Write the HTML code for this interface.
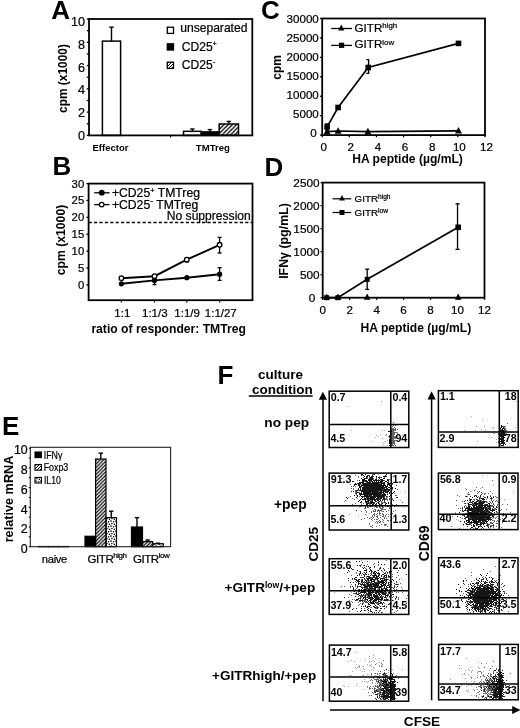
<!DOCTYPE html>
<html><head><meta charset="utf-8"><style>
html,body{margin:0;padding:0;background:#fff;}
svg{display:block;filter:blur(0.3px);}
text{font-family:"Liberation Sans", sans-serif;fill:#000;}
text:not([font-weight]){stroke:#000;stroke-width:0.22px;}
</style></head><body>
<svg width="520" height="728" viewBox="0 0 520 728">
<defs>
<filter id="soft" x="-5%" y="-5%" width="110%" height="110%"><feGaussianBlur stdDeviation="0.35"/></filter>
<pattern id="hatchA" patternUnits="userSpaceOnUse" width="4.2" height="4.2">
<path d="M-1,5.2 L5.2,-1 M-1,1 L1,-1 M3.2,5.2 L5.2,3.2" stroke="#000" stroke-width="1.3"/></pattern>
<pattern id="hatchL" patternUnits="userSpaceOnUse" width="3" height="3">
<path d="M-1,4 L4,-1 M-1,1 L1,-1 M2,4 L4,2" stroke="#000" stroke-width="1"/></pattern>
<pattern id="hatchE" patternUnits="userSpaceOnUse" width="3.5" height="3.5">
<path d="M-1,4.5 L4.5,-1 M-1,1 L1,-1 M2.5,4.5 L4.5,2.5" stroke="#000" stroke-width="1.15"/></pattern>
<pattern id="dotsE" patternUnits="userSpaceOnUse" width="5" height="5">
<circle cx="1.0" cy="1.0" r="0.85" fill="#000"/><circle cx="3.6" cy="1.8" r="0.8" fill="#000"/><circle cx="1.9" cy="3.6" r="0.8" fill="#000"/><circle cx="4.4" cy="4.3" r="0.75" fill="#000"/></pattern>
</defs>
<rect width="520" height="728" fill="#fff"/>
<text x="51.2" y="19.4" font-size="26" font-weight="bold" text-anchor="start">A</text>
<line x1="86.8" y1="135.4" x2="89" y2="135.4" stroke="#000" stroke-width="1.3"/>
<line x1="86.8" y1="123.76" x2="89" y2="123.76" stroke="#000" stroke-width="1.3"/>
<line x1="86.8" y1="112.12" x2="89" y2="112.12" stroke="#000" stroke-width="1.3"/>
<line x1="86.8" y1="100.48" x2="89" y2="100.48" stroke="#000" stroke-width="1.3"/>
<line x1="86.8" y1="88.84" x2="89" y2="88.84" stroke="#000" stroke-width="1.3"/>
<line x1="86.8" y1="77.2" x2="89" y2="77.2" stroke="#000" stroke-width="1.3"/>
<line x1="86.8" y1="65.56" x2="89" y2="65.56" stroke="#000" stroke-width="1.3"/>
<line x1="86.8" y1="53.92" x2="89" y2="53.92" stroke="#000" stroke-width="1.3"/>
<line x1="86.8" y1="42.28" x2="89" y2="42.28" stroke="#000" stroke-width="1.3"/>
<line x1="86.8" y1="30.639999999999986" x2="89" y2="30.639999999999986" stroke="#000" stroke-width="1.3"/>
<line x1="86.8" y1="19.0" x2="89" y2="19.0" stroke="#000" stroke-width="1.3"/>
<text x="84.9" y="140.1" font-size="12.6" text-anchor="end">0</text>
<text x="84.9" y="117.25999999999999" font-size="12.6" text-anchor="end">2</text>
<text x="84.9" y="94.41999999999999" font-size="12.6" text-anchor="end">4</text>
<text x="84.9" y="71.58" font-size="12.6" text-anchor="end">6</text>
<text x="84.9" y="48.74" font-size="12.6" text-anchor="end">8</text>
<text x="84.9" y="25.9" font-size="12.6" text-anchor="end">10</text>
<text x="66.6" y="78.5" font-size="11.9" font-weight="bold" text-anchor="middle" transform="rotate(-90 66.6 78.5)">cpm (x1000)</text>
<line x1="111.5" y1="27.147999999999982" x2="111.5" y2="41.116" stroke="#000" stroke-width="1.4"/>
<line x1="109.3" y1="27.147999999999982" x2="113.7" y2="27.147999999999982" stroke="#000" stroke-width="1.4"/>
<rect x="102.4" y="41.116" width="18.19999999999999" height="94.284" fill="#fff" stroke="#000" stroke-width="1.5"/>
<line x1="192.4" y1="128.998" x2="192.4" y2="131.326" stroke="#000" stroke-width="1.4"/>
<line x1="190.20000000000002" y1="128.998" x2="194.6" y2="128.998" stroke="#000" stroke-width="1.4"/>
<rect x="183.5" y="131.326" width="17.80000000000001" height="4.074000000000012" fill="#fff" stroke="#000" stroke-width="1.5"/>
<line x1="209.95" y1="129.58" x2="209.95" y2="131.90800000000002" stroke="#000" stroke-width="1.4"/>
<line x1="207.75" y1="129.58" x2="212.14999999999998" y2="129.58" stroke="#000" stroke-width="1.4"/>
<rect x="201.3" y="131.90800000000002" width="17.299999999999983" height="3.4919999999999902" fill="#000" stroke="#000" stroke-width="1.5"/>
<line x1="228.85" y1="121.432" x2="228.85" y2="123.9928" stroke="#000" stroke-width="1.4"/>
<line x1="226.65" y1="121.432" x2="231.04999999999998" y2="121.432" stroke="#000" stroke-width="1.4"/>
<rect x="219.2" y="123.9928" width="19.30000000000001" height="11.407200000000003" fill="url(#hatchA)" stroke="#000" stroke-width="1.5"/>
<rect x="89" y="19.0" width="163.3" height="116.4" fill="none" stroke="#000" stroke-width="1.8"/>
<line x1="170.6" y1="135.4" x2="170.6" y2="137.4" stroke="#000" stroke-width="1.2"/>
<text x="92.5" y="150.8" font-size="9.5" font-weight="bold" text-anchor="start">Effector</text>
<text x="195.8" y="150.8" font-size="9.6" font-weight="bold" text-anchor="start">TMTreg</text>
<rect x="167.3" y="27.2" width="6.2" height="6.2" fill="#fff" stroke="#000" stroke-width="1.3"/>
<rect x="167.3" y="43.8" width="6.2" height="6.2" fill="#000" stroke="#000" stroke-width="1.3"/>
<rect x="167.3" y="62.2" width="6.2" height="6.2" fill="url(#hatchL)" stroke="#000" stroke-width="1.3"/>
<text x="180.2" y="31.9" font-size="12.1" text-anchor="start">unseparated</text>
<text x="181.8" y="50.5" font-size="12.1" text-anchor="start">CD25<tspan dy="-5" font-size="6.5">+</tspan></text>
<text x="181.8" y="68.8" font-size="12.1" text-anchor="start">CD25<tspan dy="-5" font-size="7">-</tspan></text>
<text x="52.4" y="174.6" font-size="26" font-weight="bold" text-anchor="start">B</text>
<line x1="86.39999999999999" y1="284.9" x2="88.6" y2="284.9" stroke="#000" stroke-width="1.3"/>
<text x="84.2" y="288.9" font-size="11.3" text-anchor="end">0</text>
<line x1="86.39999999999999" y1="268.01666666666665" x2="88.6" y2="268.01666666666665" stroke="#000" stroke-width="1.3"/>
<text x="84.2" y="272.01666666666665" font-size="11.3" text-anchor="end">5</text>
<line x1="86.39999999999999" y1="251.13333333333333" x2="88.6" y2="251.13333333333333" stroke="#000" stroke-width="1.3"/>
<text x="84.2" y="255.13333333333333" font-size="11.3" text-anchor="end">10</text>
<line x1="86.39999999999999" y1="234.25" x2="88.6" y2="234.25" stroke="#000" stroke-width="1.3"/>
<text x="84.2" y="238.25" font-size="11.3" text-anchor="end">15</text>
<line x1="86.39999999999999" y1="217.36666666666667" x2="88.6" y2="217.36666666666667" stroke="#000" stroke-width="1.3"/>
<text x="84.2" y="221.36666666666667" font-size="11.3" text-anchor="end">20</text>
<line x1="86.39999999999999" y1="200.48333333333332" x2="88.6" y2="200.48333333333332" stroke="#000" stroke-width="1.3"/>
<text x="84.2" y="204.48333333333332" font-size="11.3" text-anchor="end">25</text>
<line x1="86.39999999999999" y1="183.6" x2="88.6" y2="183.6" stroke="#000" stroke-width="1.3"/>
<text x="84.2" y="187.6" font-size="11.3" text-anchor="end">30</text>
<text x="64.5" y="240.0" font-size="12.2" font-weight="bold" text-anchor="middle" transform="rotate(-90 64.5 240.0)">cpm (x1000)</text>
<line x1="121.4" y1="300.2" x2="121.4" y2="302.4" stroke="#000" stroke-width="1.3"/>
<line x1="154.5" y1="300.2" x2="154.5" y2="302.4" stroke="#000" stroke-width="1.3"/>
<line x1="186.8" y1="300.2" x2="186.8" y2="302.4" stroke="#000" stroke-width="1.3"/>
<line x1="219.6" y1="300.2" x2="219.6" y2="302.4" stroke="#000" stroke-width="1.3"/>
<line x1="88.6" y1="222.5" x2="252.5" y2="222.5" stroke="#000" stroke-width="1.3" stroke-dasharray="3.2 2.2"/>
<text x="250.8" y="219.6" font-size="12.1" text-anchor="end">No suppression</text>
<polyline points="121.4,283.8 154.5,280.4 186.8,277.7 219.6,274.2" fill="none" stroke="#000" stroke-width="1.9"/>
<polyline points="121.4,278.2 154.5,276.2 186.8,259.7 219.6,244.8" fill="none" stroke="#000" stroke-width="1.9"/>
<line x1="219.6" y1="237.4" x2="219.6" y2="253.0" stroke="#000" stroke-width="1.3"/>
<line x1="217.6" y1="237.4" x2="221.6" y2="237.4" stroke="#000" stroke-width="1.3"/>
<line x1="217.6" y1="253.0" x2="221.6" y2="253.0" stroke="#000" stroke-width="1.3"/>
<line x1="186.8" y1="257.6" x2="186.8" y2="261.8" stroke="#000" stroke-width="1.3"/>
<line x1="184.8" y1="257.6" x2="188.8" y2="257.6" stroke="#000" stroke-width="1.3"/>
<line x1="184.8" y1="261.8" x2="188.8" y2="261.8" stroke="#000" stroke-width="1.3"/>
<line x1="219.6" y1="267.7" x2="219.6" y2="280.4" stroke="#000" stroke-width="1.3"/>
<line x1="217.6" y1="267.7" x2="221.6" y2="267.7" stroke="#000" stroke-width="1.3"/>
<line x1="217.6" y1="280.4" x2="221.6" y2="280.4" stroke="#000" stroke-width="1.3"/>
<line x1="154.5" y1="277.7" x2="154.5" y2="284.6" stroke="#000" stroke-width="1.3"/>
<line x1="152.5" y1="277.7" x2="156.5" y2="277.7" stroke="#000" stroke-width="1.3"/>
<line x1="152.5" y1="284.6" x2="156.5" y2="284.6" stroke="#000" stroke-width="1.3"/>
<circle cx="121.4" cy="283.8" r="2.6" fill="#000"/>
<circle cx="154.5" cy="280.4" r="2.6" fill="#000"/>
<circle cx="186.8" cy="277.7" r="2.6" fill="#000"/>
<circle cx="219.6" cy="274.2" r="2.6" fill="#000"/>
<circle cx="121.4" cy="278.2" r="2.3" fill="#fff" stroke="#000" stroke-width="1.3"/>
<circle cx="154.5" cy="276.2" r="2.3" fill="#fff" stroke="#000" stroke-width="1.3"/>
<circle cx="186.8" cy="259.7" r="2.3" fill="#fff" stroke="#000" stroke-width="1.3"/>
<circle cx="219.6" cy="244.8" r="2.3" fill="#fff" stroke="#000" stroke-width="1.3"/>
<rect x="88.6" y="183.6" width="163.9" height="116.6" fill="none" stroke="#000" stroke-width="1.8"/>
<line x1="94.2" y1="192.8" x2="109.6" y2="192.8" stroke="#000" stroke-width="1.3"/>
<circle cx="101.8" cy="192.7" r="2.9" fill="#000"/>
<line x1="94.2" y1="204.6" x2="109.6" y2="204.6" stroke="#000" stroke-width="1.3"/>
<circle cx="101.7" cy="204.6" r="2.3" fill="#fff" stroke="#000" stroke-width="1.2"/>
<text x="111.9" y="197.2" font-size="12.2" text-anchor="start">+CD25<tspan dy="-4.5" font-size="7.5">+</tspan><tspan dy="4.5"> TMTreg</tspan></text>
<text x="111.9" y="208.8" font-size="12.2" text-anchor="start">+CD25<tspan dy="-4.5" font-size="8.5">-</tspan><tspan dy="4.5"> TMTreg</tspan></text>
<text x="122.3" y="317.0" font-size="11.5" text-anchor="middle">1:1</text>
<text x="154.8" y="317.0" font-size="11.5" text-anchor="middle">1:1/3</text>
<text x="187.1" y="317.0" font-size="11.5" text-anchor="middle">1:1/9</text>
<text x="220.8" y="317.0" font-size="11.5" text-anchor="middle">1:1/27</text>
<text x="91.4" y="333.2" font-size="12.15" font-weight="bold" text-anchor="start">ratio of responder: TMTreg</text>
<text x="261.0" y="19.4" font-size="26" font-weight="bold" text-anchor="start">C</text>
<line x1="320.0" y1="135.1" x2="322.2" y2="135.1" stroke="#000" stroke-width="1.3"/>
<text x="316.6" y="137.1" font-size="11.6" text-anchor="end">0</text>
<line x1="320.0" y1="115.66666666666666" x2="322.2" y2="115.66666666666666" stroke="#000" stroke-width="1.3"/>
<text x="318.8" y="118.0" font-size="11.6" text-anchor="end">5000</text>
<line x1="320.0" y1="96.23333333333332" x2="322.2" y2="96.23333333333332" stroke="#000" stroke-width="1.3"/>
<text x="318.8" y="98.89999999999999" font-size="11.6" text-anchor="end">10000</text>
<line x1="320.0" y1="76.8" x2="322.2" y2="76.8" stroke="#000" stroke-width="1.3"/>
<text x="318.8" y="79.79999999999998" font-size="11.6" text-anchor="end">15000</text>
<line x1="320.0" y1="57.36666666666666" x2="322.2" y2="57.36666666666666" stroke="#000" stroke-width="1.3"/>
<text x="318.8" y="60.69999999999999" font-size="11.6" text-anchor="end">20000</text>
<line x1="320.0" y1="37.93333333333332" x2="322.2" y2="37.93333333333332" stroke="#000" stroke-width="1.3"/>
<text x="318.8" y="41.599999999999994" font-size="11.6" text-anchor="end">25000</text>
<line x1="320.0" y1="18.5" x2="322.2" y2="18.5" stroke="#000" stroke-width="1.3"/>
<text x="318.8" y="22.499999999999986" font-size="11.6" text-anchor="end">30000</text>
<line x1="322.2" y1="135.1" x2="322.2" y2="137.29999999999998" stroke="#000" stroke-width="1.3"/>
<text x="323.7" y="150.7" font-size="11.6" text-anchor="middle">0</text>
<line x1="349.3333333333333" y1="135.1" x2="349.3333333333333" y2="137.29999999999998" stroke="#000" stroke-width="1.3"/>
<text x="350.8333333333333" y="150.7" font-size="11.6" text-anchor="middle">2</text>
<line x1="376.46666666666664" y1="135.1" x2="376.46666666666664" y2="137.29999999999998" stroke="#000" stroke-width="1.3"/>
<text x="377.96666666666664" y="150.7" font-size="11.6" text-anchor="middle">4</text>
<line x1="403.6" y1="135.1" x2="403.6" y2="137.29999999999998" stroke="#000" stroke-width="1.3"/>
<text x="405.1" y="150.7" font-size="11.6" text-anchor="middle">6</text>
<line x1="430.73333333333335" y1="135.1" x2="430.73333333333335" y2="137.29999999999998" stroke="#000" stroke-width="1.3"/>
<text x="432.23333333333335" y="150.7" font-size="11.6" text-anchor="middle">8</text>
<line x1="457.8666666666667" y1="135.1" x2="457.8666666666667" y2="137.29999999999998" stroke="#000" stroke-width="1.3"/>
<text x="459.3666666666667" y="150.7" font-size="11.6" text-anchor="middle">10</text>
<line x1="485.0" y1="135.1" x2="485.0" y2="137.29999999999998" stroke="#000" stroke-width="1.3"/>
<text x="486.5" y="150.7" font-size="11.6" text-anchor="middle">12</text>
<text x="280.6" y="67.3" font-size="12.0" font-weight="bold" text-anchor="middle" transform="rotate(-90 280.6 67.3)">cpm</text>
<text x="352.2" y="162.6" font-size="12.1" font-weight="bold" text-anchor="start">HA peptide (µg/mL)</text>
<polyline points="327.1,131.6 338.1,131.0 367.9,131.6 458.5,130.8" fill="none" stroke="#000" stroke-width="1.7"/>
<polyline points="327.1,126.9 338.1,107.5 368.2,67.5 458.5,43.4" fill="none" stroke="#000" stroke-width="1.7"/>
<path d="M366.3,59.6 H368.6 V73.4 H366.3" fill="none" stroke="#000" stroke-width="1.4"/>
<line x1="327.084" y1="123.82866666666666" x2="327.084" y2="130.0473333333333" stroke="#000" stroke-width="1.3"/>
<line x1="325.084" y1="123.82866666666666" x2="329.084" y2="123.82866666666666" stroke="#000" stroke-width="1.3"/>
<line x1="325.084" y1="130.0473333333333" x2="329.084" y2="130.0473333333333" stroke="#000" stroke-width="1.3"/>
<rect x="324.3" y="124.1" width="5.6" height="5.6" fill="#000"/>
<rect x="335.3" y="104.7" width="5.6" height="5.6" fill="#000"/>
<rect x="365.4" y="64.7" width="5.6" height="5.6" fill="#000"/>
<rect x="455.7" y="40.6" width="5.6" height="5.6" fill="#000"/>
<path d="M327.1,127.8 L330.6,134.4 L323.6,134.4Z" fill="#000"/>
<path d="M338.1,127.2 L341.6,133.8 L334.6,133.8Z" fill="#000"/>
<path d="M367.9,127.8 L371.4,134.4 L364.4,134.4Z" fill="#000"/>
<path d="M458.5,127.0 L462.0,133.6 L455.0,133.6Z" fill="#000"/>
<rect x="322.2" y="18.5" width="162.8" height="116.6" fill="none" stroke="#000" stroke-width="1.8"/>
<line x1="331.2" y1="28.5" x2="352" y2="28.5" stroke="#000" stroke-width="1.3"/>
<path d="M341.3,24.5 L344.4,30.4 L338.2,30.4Z" fill="#000"/>
<line x1="331.2" y1="45.4" x2="352" y2="45.4" stroke="#000" stroke-width="1.3"/>
<rect x="339.0" y="42.7" width="5.2" height="5.2" fill="#000"/>
<text x="354.6" y="31.6" font-size="11.6" text-anchor="start">GITR<tspan dy="-3.6" font-size="7.9">high</tspan></text>
<text x="354.6" y="48.4" font-size="11.6" text-anchor="start">GITR<tspan dy="-3.6" font-size="7.9">low</tspan></text>
<text x="264.6" y="175.6" font-size="26" font-weight="bold" text-anchor="start">D</text>
<line x1="320.5" y1="297.7" x2="322.7" y2="297.7" stroke="#000" stroke-width="1.3"/>
<text x="315.4" y="302.1" font-size="11.8" text-anchor="end">0</text>
<line x1="320.5" y1="274.68" x2="322.7" y2="274.68" stroke="#000" stroke-width="1.3"/>
<text x="319.6" y="279.14000000000004" font-size="11.8" text-anchor="end">500</text>
<line x1="320.5" y1="251.66" x2="322.7" y2="251.66" stroke="#000" stroke-width="1.3"/>
<text x="319.6" y="256.18" font-size="11.8" text-anchor="end">1000</text>
<line x1="320.5" y1="228.64" x2="322.7" y2="228.64" stroke="#000" stroke-width="1.3"/>
<text x="319.6" y="233.22000000000003" font-size="11.8" text-anchor="end">1500</text>
<line x1="320.5" y1="205.62" x2="322.7" y2="205.62" stroke="#000" stroke-width="1.3"/>
<text x="319.6" y="210.26000000000002" font-size="11.8" text-anchor="end">2000</text>
<line x1="320.5" y1="182.6" x2="322.7" y2="182.6" stroke="#000" stroke-width="1.3"/>
<text x="319.6" y="187.3" font-size="11.8" text-anchor="end">2500</text>
<line x1="322.7" y1="297.7" x2="322.7" y2="299.9" stroke="#000" stroke-width="1.3"/>
<text x="322.7" y="314.3" font-size="11.6" text-anchor="middle">0</text>
<line x1="349.66666666666663" y1="297.7" x2="349.66666666666663" y2="299.9" stroke="#000" stroke-width="1.3"/>
<text x="349.66666666666663" y="314.3" font-size="11.6" text-anchor="middle">2</text>
<line x1="376.6333333333333" y1="297.7" x2="376.6333333333333" y2="299.9" stroke="#000" stroke-width="1.3"/>
<text x="376.6333333333333" y="314.3" font-size="11.6" text-anchor="middle">4</text>
<line x1="403.6" y1="297.7" x2="403.6" y2="299.9" stroke="#000" stroke-width="1.3"/>
<text x="403.6" y="314.3" font-size="11.6" text-anchor="middle">6</text>
<line x1="430.56666666666666" y1="297.7" x2="430.56666666666666" y2="299.9" stroke="#000" stroke-width="1.3"/>
<text x="430.56666666666666" y="314.3" font-size="11.6" text-anchor="middle">8</text>
<line x1="457.5333333333333" y1="297.7" x2="457.5333333333333" y2="299.9" stroke="#000" stroke-width="1.3"/>
<text x="457.5333333333333" y="314.3" font-size="11.6" text-anchor="middle">10</text>
<line x1="484.5" y1="297.7" x2="484.5" y2="299.9" stroke="#000" stroke-width="1.3"/>
<text x="484.5" y="314.3" font-size="11.6" text-anchor="middle">12</text>
<text x="288.2" y="241.0" font-size="12.4" font-weight="bold" text-anchor="middle" transform="rotate(-90 288.2 241.0)">IFNγ (pg/mL)</text>
<text x="360.6" y="331.8" font-size="12.1" font-weight="bold" text-anchor="start">HA peptide (µg/mL)</text>
<polyline points="326.7,297.7 337.9,297.7 367.2,279.3 458.2,227.3" fill="none" stroke="#000" stroke-width="1.7"/>
<line x1="367.195" y1="269.1552" x2="367.195" y2="289.4128" stroke="#000" stroke-width="1.3"/>
<line x1="365.195" y1="269.1552" x2="369.195" y2="269.1552" stroke="#000" stroke-width="1.3"/>
<line x1="365.195" y1="289.4128" x2="369.195" y2="289.4128" stroke="#000" stroke-width="1.3"/>
<line x1="457.5333333333333" y1="203.77839999999998" x2="457.5333333333333" y2="249.358" stroke="#000" stroke-width="1.3"/>
<line x1="455.5333333333333" y1="203.77839999999998" x2="459.5333333333333" y2="203.77839999999998" stroke="#000" stroke-width="1.3"/>
<line x1="455.5333333333333" y1="249.358" x2="459.5333333333333" y2="249.358" stroke="#000" stroke-width="1.3"/>
<rect x="324.2" y="295.2" width="5.0" height="5.0" fill="#000"/>
<rect x="335.4" y="295.2" width="5.0" height="5.0" fill="#000"/>
<rect x="364.7" y="276.8" width="5.0" height="5.0" fill="#000"/>
<rect x="455.4" y="224.5" width="5.6" height="5.6" fill="#000"/>
<path d="M326.7,293.6 L330.0,299.8 L323.4,299.8Z" fill="#000"/>
<path d="M337.9,293.6 L341.2,299.8 L334.6,299.8Z" fill="#000"/>
<path d="M367.2,293.6 L370.5,299.8 L363.9,299.8Z" fill="#000"/>
<path d="M458.2,293.6 L461.5,299.8 L454.9,299.8Z" fill="#000"/>
<rect x="322.7" y="182.6" width="161.8" height="115.1" fill="none" stroke="#000" stroke-width="1.8"/>
<line x1="332.5" y1="198.8" x2="351.2" y2="198.8" stroke="#000" stroke-width="1.2"/>
<path d="M342.0,195.1 L344.9,200.6 L339.1,200.6Z" fill="#000"/>
<line x1="332.5" y1="212.5" x2="351.2" y2="212.5" stroke="#000" stroke-width="1.2"/>
<rect x="339.5" y="210.0" width="5.0" height="5.0" fill="#000"/>
<text x="354.6" y="202.4" font-size="9.8" text-anchor="start">GITR<tspan dy="-3.2" font-size="6.6">high</tspan></text>
<text x="354.6" y="216.0" font-size="9.8" text-anchor="start">GITR<tspan dy="-3.2" font-size="6.6">low</tspan></text>
<text x="2.0" y="435.0" font-size="26" font-weight="bold" text-anchor="start">E</text>
<line x1="28.8" y1="546.7" x2="30.3" y2="546.7" stroke="#000" stroke-width="1.1"/>
<line x1="28.8" y1="536.85" x2="30.3" y2="536.85" stroke="#000" stroke-width="1.1"/>
<line x1="28.8" y1="527.0" x2="30.3" y2="527.0" stroke="#000" stroke-width="1.1"/>
<line x1="28.8" y1="517.15" x2="30.3" y2="517.15" stroke="#000" stroke-width="1.1"/>
<line x1="28.8" y1="507.3" x2="30.3" y2="507.3" stroke="#000" stroke-width="1.1"/>
<line x1="28.8" y1="497.45000000000005" x2="30.3" y2="497.45000000000005" stroke="#000" stroke-width="1.1"/>
<line x1="28.8" y1="487.6" x2="30.3" y2="487.6" stroke="#000" stroke-width="1.1"/>
<line x1="28.8" y1="477.75" x2="30.3" y2="477.75" stroke="#000" stroke-width="1.1"/>
<line x1="28.8" y1="467.9" x2="30.3" y2="467.9" stroke="#000" stroke-width="1.1"/>
<line x1="28.8" y1="458.05" x2="30.3" y2="458.05" stroke="#000" stroke-width="1.1"/>
<line x1="28.8" y1="448.2" x2="30.3" y2="448.2" stroke="#000" stroke-width="1.1"/>
<text x="27.7" y="552.9" font-size="12.4" text-anchor="end">0</text>
<text x="27.7" y="533.1999999999999" font-size="12.4" text-anchor="end">2</text>
<text x="27.7" y="513.5" font-size="12.4" text-anchor="end">4</text>
<text x="27.7" y="493.8" font-size="12.4" text-anchor="end">6</text>
<text x="27.7" y="474.09999999999997" font-size="12.4" text-anchor="end">8</text>
<text x="27.7" y="454.4" font-size="12.4" text-anchor="end">10</text>
<text x="12.6" y="499.0" font-size="12.7" font-weight="bold" text-anchor="middle" transform="rotate(-90 12.6 499.0)">relative mRNA</text>
<rect x="38.5" y="546.503" width="10.0" height="0.19700000000000273" fill="#000" stroke="#000" stroke-width="1.2"/>
<rect x="48.5" y="546.503" width="10.0" height="0.19700000000000273" fill="#000" stroke="#000" stroke-width="1.2"/>
<rect x="58.5" y="546.503" width="10.0" height="0.19700000000000273" fill="#000" stroke="#000" stroke-width="1.2"/>
<rect x="85.0" y="536.259" width="10.599999999999994" height="10.441000000000031" fill="#000" stroke="#000" stroke-width="1.2"/>
<line x1="100.8" y1="453.125" x2="100.8" y2="459.03499999999997" stroke="#000" stroke-width="1.4"/>
<line x1="98.6" y1="453.125" x2="103.0" y2="453.125" stroke="#000" stroke-width="1.4"/>
<rect x="95.6" y="459.03499999999997" width="10.400000000000006" height="87.66500000000008" fill="url(#hatchE)" stroke="#000" stroke-width="1.2"/>
<line x1="111.25" y1="511.24" x2="111.25" y2="517.6425" stroke="#000" stroke-width="1.4"/>
<line x1="109.05" y1="511.24" x2="113.45" y2="511.24" stroke="#000" stroke-width="1.4"/>
<rect x="106.0" y="517.6425" width="10.5" height="29.057500000000005" fill="url(#dotsE)" stroke="#000" stroke-width="1.2"/>
<line x1="137.0" y1="517.6425" x2="137.0" y2="527.0" stroke="#000" stroke-width="1.4"/>
<line x1="134.8" y1="517.6425" x2="139.2" y2="517.6425" stroke="#000" stroke-width="1.4"/>
<rect x="131.5" y="527.0" width="11.0" height="19.700000000000045" fill="#000" stroke="#000" stroke-width="1.2"/>
<line x1="147.6" y1="540.0020000000001" x2="147.6" y2="541.5780000000001" stroke="#000" stroke-width="1.4"/>
<line x1="145.4" y1="540.0020000000001" x2="149.79999999999998" y2="540.0020000000001" stroke="#000" stroke-width="1.4"/>
<rect x="142.5" y="541.5780000000001" width="10.199999999999989" height="5.121999999999957" fill="url(#hatchE)" stroke="#000" stroke-width="1.2"/>
<line x1="158.0" y1="543.2525" x2="158.0" y2="543.745" stroke="#000" stroke-width="1.4"/>
<line x1="155.8" y1="543.2525" x2="160.2" y2="543.2525" stroke="#000" stroke-width="1.4"/>
<rect x="152.7" y="543.745" width="10.600000000000023" height="2.955000000000041" fill="url(#dotsE)" stroke="#000" stroke-width="1.2"/>
<rect x="30.3" y="447.3" width="140.29999999999998" height="99.40000000000003" fill="none" stroke="#222" stroke-width="1.1"/>
<rect x="35.0" y="452.0" width="6.4" height="5.6" fill="#000" stroke="#000" stroke-width="1.1"/>
<rect x="35.0" y="464.6" width="6.4" height="5.6" fill="url(#hatchL)" stroke="#000" stroke-width="1.1"/>
<rect x="35.0" y="477.4" width="6.4" height="5.6" fill="url(#dotsE)" stroke="#000" stroke-width="1.1"/>
<text x="43.7" y="458.8" font-size="10.6" text-anchor="start" textLength="18.6" lengthAdjust="spacingAndGlyphs">IFNγ</text>
<text x="43.7" y="471.0" font-size="10.6" text-anchor="start" textLength="24.6" lengthAdjust="spacingAndGlyphs">Foxp3</text>
<text x="43.9" y="483.6" font-size="10.6" text-anchor="start" textLength="16.9" lengthAdjust="spacingAndGlyphs">IL10</text>
<text x="41.8" y="562.8" font-size="11.2" text-anchor="start" letter-spacing="-0.3">naive</text>
<text x="87.6" y="562.8" font-size="11.6" text-anchor="start" letter-spacing="-0.5">GITR<tspan dy="-4.5" font-size="8">high</tspan></text>
<text x="133.0" y="562.8" font-size="11.6" text-anchor="start" letter-spacing="-0.5">GITR<tspan dy="-4.5" font-size="8">low</tspan></text>
<text x="217.6" y="384.2" font-size="26" font-weight="bold" text-anchor="start">F</text>
<text x="280.6" y="378.5" font-size="13.5" font-weight="bold" text-anchor="middle">culture</text>
<text x="282.4" y="393.9" font-size="13.5" font-weight="bold" text-anchor="middle">condition</text>
<line x1="248.8" y1="396.0" x2="312.7" y2="396.0" stroke="#000" stroke-width="1.5"/>
<text x="286.7" y="427.2" font-size="13.7" font-weight="bold" text-anchor="middle">no pep</text>
<text x="290.4" y="508.8" font-size="13.9" font-weight="bold" text-anchor="middle">+pep</text>
<text x="315.2" y="591.8" font-size="13.6" font-weight="bold" text-anchor="end">+GITR<tspan dy="-4.0" font-size="8.6">low</tspan><tspan dy="4.0">/+pep</tspan></text>
<text x="316.3" y="680.0" font-size="13.5" font-weight="bold" text-anchor="end">+GITRhigh/+pep</text>
<line x1="323.0" y1="398" x2="323.0" y2="701.2" stroke="#000" stroke-width="1.5"/>
<path d="M322.9,391.7 L327,399.7 L318.8,399.7Z" fill="#000"/>
<line x1="431.6" y1="398" x2="431.6" y2="700.2" stroke="#000" stroke-width="1.5"/>
<path d="M431.6,391.3 L435.7,399.4 L427.5,399.4Z" fill="#000"/>
<line x1="330.0" y1="710.0" x2="513" y2="710.0" stroke="#000" stroke-width="1.5"/>
<path d="M520.5,710 L512.2,705.9 L512.2,714.1Z" fill="#000"/>
<text x="313.6" y="544.2" font-size="13.6" font-weight="bold" text-anchor="middle" transform="rotate(-90 313.6 544.2)" dominant-baseline="central">CD25</text>
<text x="424.4" y="543.4" font-size="13.9" font-weight="bold" text-anchor="middle" transform="rotate(-90 424.4 543.4)" dominant-baseline="central">CD69</text>
<text x="422.0" y="726.3" font-size="13.6" font-weight="bold" text-anchor="middle">CFSE</text>
<g filter="url(#soft)"><path d="M381.5 401.5h0m135 0h0m-168 5h0m123 10h0m11 4h0m17 5h0m-23 1h0m8 0h0m9 1h0m7 0h0m15 0h0m-23 1h0m-11 1h0m-130 1h0m31 0h0m2 0h0m80 0h0m11 0h0m10 0h0m-15 1h0m24 0h0m12 0h0m-109 1h0m96 1h0m1 0h0m12 0h0m-126 1h0m6 0h0m-10 1h0m9 0h0m1 0h0m16 0h0m87 0h0m-111 1h0m10 0h0m9 0h0m-22 1h0m113 0h0m3 0h0m-109 1h0m125 0h0m-11 1h0m-109 1h0m-15 1h0m13 0h0m92 0h0m-95 1h0m114 0h0m13 1h0m-126 1h0m4 1h0m-9 29h0m104 1h0m-139 3h0m108 1h0m42 6h0m-28 3h0m15 0h0m-5 1h0m-93 2h0m23 0h0m65 0h0m1 0h0m42 1h0m-46 1h0m0 1h0m-111 1h0m103 1h0m-111 1h0m21 0h0m107 1h0m11 0h0m-96 1h0m108 0h0m5 0h0m-158 1h0m54 0h0m-56 1h0m36 0h0m-19 2h0m138 0h0m-139 2h0m5 0h0m-6 2h0m15 0h0m29 0h0m-25 2h0m116 0h0m-113 2h0m74 1h0m-86 1h0m-20 1h0m94 0h0m-77 1h0m-8 1h0m16 0h0m-4 1h0m125 0h0m-103 1h0m64 1h0m-84 1h0m86 0h0m35 0h0m-105 1h0m128 1h0m-147 2h0m94 1h0m20 0h0m-120 47h0m-19 1h0m57 5h0m73 2h0m-107 1h0m30 1h0m-40 3h0m15 0h0m21 5h0m80 0h0m-90 1h0m-49 1h0m17 0h0m95 5h0m-84 1h0m93 0h0m14 0h0m-10 2h0m-83 1h0m15 0h0m62 0h0m-2 2h0m-65 1h0m121 2h0m-39 6h0m-112 40h0m17 3h0m-4 1h0m4 1h0m-4 1h0m6 0h0m4 0h0m87 0h0m-101 1h0m-14 1h0m22 0h0m-25 1h0m6 0h0m15 0h0m2 0h0m3 0h0m-5 1h0m10 0h0m99 0h0m-102 1h0m110 0h0m-130 1h0m11 0h0m4 0h0m-12 1h0m10 0h0m1 0h0m9 0h0m2 0h0m78 0h0m-101 1h0m1 0h0m3 0h0m1 0h0m8 0h0m8 0h0m3 0h0m-27 1h0m2 0h0m2 0h0m14 0h0m97 0h0m8 0h0m-122 1h0m7 0h0m11 0h0m85 0h0m2 0h0m18 0h0m-115 1h0m7 0h0m19 0h0m2 0h0m10 0h0m66 0h0m-108 1h0m9 0h0m4 0h0m15 0h0m77 0h0m4 0h0m3 0h0m17 0h0m-137 1h0m10 0h0m2 0h0m14 0h0m93 0h0m8 0h0m4 0h0m-95 1h0m83 0h0m6 0h0m-106 1h0m3 0h0m90 0h0m13 0h0m4 0h0m9 0h0m-123 1h0m95 0h0m2 0h0m4 0h0m15 0h0m-134 1h0m2 0h0m11 0h0m1 0h0m8 0h0m4 0h0m102 0h0m5 0h0m-111 1h0m99 0h0m13 0h0m14 0h0m-142 1h0m25 0h0m7 0h0m93 0h0m-111 1h0m96 0h0m6 0h0m4 0h0m13 0h0m-124 1h0m86 0h0m31 0h0m0 1h0m-119 1h0m2 0h0m2 0h0m2 0h0m98 0h0m5 0h0m3 0h0m-107 1h0m10 0h0m96 0h0m10 0h0m11 0h0m-137 1h0m15 0h0m3 0h0m2 0h0m4 0h0m92 0h0m3 0h0m1 0h0m-1 1h0m6 0h0m-139 1h0m13 0h0m105 0h0m7 0h0m3 0h0m12 0h0m-139 1h0m4 0h0m32 0h0m86 0h0m15 0h0m-114 1h0m7 0h0m109 0h0m-120 2h0m6 0h0m99 0h0m5 0h0m7 0h0m-14 1h0m21 0h0m-20 1h0m1 0h0m9 1h0m-1 1h0m8 0h0m-25 2h0m12 0h0m3 0h0m7 1h0" stroke="#a8a8a8" stroke-width="1" stroke-linecap="square" fill="none"/><path d="M393.5 422.5h0m114 1h0m-115 1h0m1 1h0m2 0h0m-3 1h0m111 0h0m1 0h0m1 0h0m-111 1h0m110 0h0m-114 1h0m1 0h0m1 0h0m1 0h0m2 0h0m109 0h0m1 0h0m-115 1h0m1 0h0m1 0h0m1 0h0m1 0h0m1 0h0m2 0h0m103 0h0m1 0h0m4 0h0m-114 1h0m1 0h0m1 0h0m1 0h0m1 0h0m109 0h0m1 0h0m1 0h0m-114 1h0m1 0h0m107 0h0m4 0h0m1 0h0m-114 1h0m1 0h0m1 0h0m1 0h0m1 0h0m1 0h0m103 0h0m9 0h0m-118 1h0m1 0h0m1 0h0m1 0h0m1 0h0m3 0h0m101 0h0m1 0h0m6 0h0m-114 1h0m1 0h0m1 0h0m1 0h0m104 0h0m1 0h0m6 0h0m-116 1h0m1 0h0m1 0h0m1 0h0m1 0h0m106 0h0m-108 1h0m1 0h0m1 0h0m1 0h0m1 0h0m-5 1h0m1 0h0m1 0h0m1 0h0m1 0h0m1 0h0m104 0h0m-109 1h0m1 0h0m1 0h0m1 0h0m1 0h0m1 0h0m103 0h0m1 0h0m-108 1h0m1 0h0m1 0h0m-3 1h0m1 0h0m1 0h0m1 0h0m1 0h0m1 0h0m104 0h0m-108 1h0m1 0h0m1 0h0m1 0h0m104 0h0m-108 1h0m1 0h0m1 0h0m1 0h0m1 0h0m104 0h0m-108 1h0m1 0h0m1 0h0m1 0h0m1 0h0m106 0h0m-109 1h0m1 0h0m2 0h0m106 0h0m-109 1h0m1 0h0m1 0h0m2 0h0m104 0h0m1 0h0m-128 29h0m1 0h0m-18 1h0m14 0h0m-11 1h0m15 0h0m6 0h0m-21 1h0m5 0h0m4 0h0m2 0h0m10 0h0m1 0h0m4 0h0m-43 1h0m26 0h0m6 0h0m3 0h0m-3 1h0m5 0h0m10 0h0m1 0h0m-32 1h0m23 0h0m4 0h0m7 0h0m101 0h0m-128 1h0m6 0h0m18 0h0m-22 1h0m16 0h0m1 0h0m14 0h0m-18 1h0m1 0h0m7 0h0m-37 1h0m10 0h0m1 0h0m1 0h0m30 0h0m-1 1h0m5 0h0m-45 1h0m2 0h0m2 0h0m8 0h0m113 1h0m6 0h0m-131 1h0m2 0h0m38 0h0m-38 1h0m30 0h0m9 0h0m5 0h0m69 0h0m-111 1h0m3 0h0m29 0h0m87 0h0m-119 1h0m23 0h0m1 0h0m7 0h0m4 0h0m87 0h0m2 0h0m11 0h0m-135 1h0m1 0h0m3 0h0m12 0h0m20 0h0m77 0h0m10 0h0m-123 1h0m32 0h0m4 0h0m3 0h0m83 0h0m5 0h0m2 0h0m1 0h0m3 0h0m4 0h0m-136 1h0m25 0h0m88 0h0m15 0h0m-116 1h0m27 0h0m1 0h0m61 0h0m17 0h0m2 0h0m14 0h0m-140 1h0m9 0h0m28 0h0m78 0h0m2 0h0m11 0h0m5 0h0m10 0h0m2 0h0m-131 1h0m18 0h0m2 0h0m2 0h0m1 0h0m9 0h0m83 0h0m1 0h0m4 0h0m7 0h0m5 0h0m1 0h0m-145 1h0m5 0h0m9 0h0m13 0h0m6 0h0m1 0h0m3 0h0m3 0h0m77 0h0m11 0h0m12 0h0m-138 1h0m12 0h0m3 0h0m11 0h0m2 0h0m3 0h0m1 0h0m1 0h0m5 0h0m77 0h0m4 0h0m1 0h0m3 0h0m2 0h0m7 0h0m5 0h0m-146 1h0m22 0h0m3 0h0m1 0h0m16 0h0m69 0h0m9 0h0m4 0h0m5 0h0m5 0h0m2 0h0m2 0h0m8 0h0m2 0h0m3 0h0m-118 1h0m3 0h0m3 0h0m78 0h0m16 0h0m3 0h0m5 0h0m3 0h0m6 0h0m2 0h0m-136 1h0m4 0h0m2 0h0m2 0h0m8 0h0m4 0h0m1 0h0m1 0h0m2 0h0m17 0h0m68 0h0m2 0h0m6 0h0m8 0h0m1 0h0m5 0h0m6 0h0m1 0h0m-144 1h0m8 0h0m6 0h0m3 0h0m2 0h0m5 0h0m2 0h0m4 0h0m5 0h0m74 0h0m3 0h0m6 0h0m18 0h0m2 0h0m-141 1h0m9 0h0m8 0h0m1 0h0m6 0h0m4 0h0m12 0h0m4 0h0m76 0h0m2 0h0m4 0h0m6 0h0m13 0h0m5 0h0m5 0h0m-139 1h0m7 0h0m1 0h0m1 0h0m2 0h0m1 0h0m76 0h0m9 0h0m4 0h0m19 0h0m3 0h0m1 0h0m2 0h0m3 0h0m-137 1h0m5 0h0m2 0h0m2 0h0m1 0h0m1 0h0m1 0h0m9 0h0m4 0h0m3 0h0m2 0h0m4 0h0m72 0h0m4 0h0m20 0h0m1 0h0m1 0h0m-125 1h0m1 0h0m8 0h0m1 0h0m2 0h0m1 0h0m2 0h0m1 0h0m6 0h0m73 0h0m2 0h0m2 0h0m21 0h0m1 0h0m2 0h0m7 0h0m-133 1h0m1 0h0m7 0h0m8 0h0m1 0h0m1 0h0m7 0h0m69 0h0m2 0h0m24 0h0m3 0h0m5 0h0m2 0h0m1 0h0m-121 1h0m1 0h0m6 0h0m1 0h0m1 0h0m1 0h0m1 0h0m77 0h0m5 0h0m21 0h0m7 0h0m6 0h0m5 0h0m-141 1h0m8 0h0m2 0h0m2 0h0m2 0h0m1 0h0m1 0h0m7 0h0m7 0h0m65 0h0m6 0h0m17 0h0m5 0h0m12 0h0m-139 1h0m5 0h0m5 0h0m2 0h0m1 0h0m1 0h0m2 0h0m2 0h0m3 0h0m1 0h0m3 0h0m7 0h0m69 0h0m9 0h0m14 0h0m14 0h0m-133 1h0m5 0h0m8 0h0m88 0h0m12 0h0m8 0h0m4 0h0m5 0h0m1 0h0m13 0h0m-136 1h0m3 0h0m2 0h0m1 0h0m2 0h0m10 0h0m63 0h0m10 0h0m2 0h0m21 0h0m2 0h0m2 0h0m-127 1h0m8 0h0m1 0h0m2 0h0m3 0h0m3 0h0m1 0h0m3 0h0m2 0h0m2 0h0m5 0h0m82 0h0m14 0h0m5 0h0m2 0h0m-126 1h0m2 0h0m3 0h0m3 0h0m3 0h0m2 0h0m77 0h0m1 0h0m1 0h0m22 0h0m5 0h0m2 0h0m1 0h0m5 0h0m-127 1h0m4 0h0m1 0h0m5 0h0m1 0h0m2 0h0m3 0h0m64 0h0m14 0h0m3 0h0m28 0h0m-130 1h0m4 0h0m2 0h0m4 0h0m3 0h0m4 0h0m6 0h0m70 0h0m9 0h0m22 0h0m5 0h0m-132 1h0m5 0h0m3 0h0m6 0h0m6 0h0m2 0h0m76 0h0m3 0h0m6 0h0m14 0h0m5 0h0m2 0h0m3 0h0m3 0h0m4 0h0m-141 1h0m10 0h0m3 0h0m2 0h0m1 0h0m5 0h0m9 0h0m74 0h0m35 0h0m-121 1h0m4 0h0m4 0h0m1 0h0m2 0h0m96 0h0m4 0h0m2 0h0m2 0h0m3 0h0m2 0h0m5 0h0m-128 1h0m2 0h0m2 0h0m2 0h0m102 0h0m10 0h0m2 0h0m-121 1h0m2 0h0m2 0h0m1 0h0m3 0h0m81 0h0m15 0h0m3 0h0m8 0h0m1 0h0m2 0h0m6 0h0m3 0h0m-133 1h0m8 0h0m88 0h0m4 0h0m1 0h0m15 0h0m1 0h0m1 0h0m3 0h0m1 0h0m5 0h0m1 0h0m-116 1h0m3 0h0m1 0h0m1 0h0m84 0h0m19 0h0m4 0h0m-121 1h0m7 0h0m5 0h0m1 0h0m92 0h0m9 0h0m2 0h0m2 0h0m1 0h0m1 0h0m7 0h0m-129 1h0m1 0h0m5 0h0m11 0h0m64 0h0m29 0h0m7 0h0m1 0h0m3 0h0m2 0h0m3 0h0m-124 1h0m103 0h0m15 0h0m3 0h0m8 0h0m-110 1h0m68 0h0m14 0h0m8 0h0m2 0h0m6 0h0m-128 32h0m25 0h0m-19 1h0m11 0h0m15 0h0m-19 2h0m-13 1h0m6 0h0m6 0h0m5 0h0m-19 1h0m4 0h0m15 0h0m-18 1h0m135 0h0m-133 1h0m7 0h0m5 0h0m-25 1h0m16 0h0m14 0h0m9 0h0m-35 1h0m26 0h0m5 0h0m99 0h0m-106 1h0m21 0h0m-49 1h0m10 0h0m7 0h0m6 0h0m10 0h0m4 0h0m4 0h0m100 0h0m-134 1h0m22 0h0m5 0h0m2 0h0m86 0h0m-115 1h0m3 0h0m3 0h0m8 0h0m1 0h0m16 0h0m2 0h0m-25 1h0m1 0h0m9 0h0m4 0h0m8 0h0m6 0h0m-41 1h0m8 0h0m2 0h0m18 0h0m19 0h0m73 0h0m29 0h0m-134 1h0m17 0h0m7 0h0m2 0h0m91 0h0m-122 1h0m5 0h0m2 0h0m3 0h0m3 0h0m3 0h0m6 0h0m1 0h0m4 0h0m1 0h0m7 0h0m86 0h0m9 0h0m-125 1h0m20 0h0m79 0h0m11 0h0m17 0h0m-141 1h0m2 0h0m7 0h0m3 0h0m1 0h0m11 0h0m6 0h0m6 0h0m11 0h0m82 0h0m2 0h0m-135 1h0m9 0h0m10 0h0m2 0h0m4 0h0m12 0h0m4 0h0m88 0h0m17 0h0m2 0h0m-141 1h0m13 0h0m1 0h0m8 0h0m9 0h0m10 0h0m75 0h0m18 0h0m1 0h0m-134 1h0m6 0h0m2 0h0m2 0h0m4 0h0m7 0h0m12 0h0m2 0h0m5 0h0m81 0h0m3 0h0m7 0h0m7 0h0m-134 1h0m4 0h0m7 0h0m3 0h0m7 0h0m5 0h0m14 0h0m70 0h0m5 0h0m27 0h0m-151 1h0m14 0h0m1 0h0m22 0h0m1 0h0m1 0h0m5 0h0m3 0h0m66 0h0m4 0h0m18 0h0m4 0h0m11 0h0m-146 1h0m6 0h0m5 0h0m18 0h0m5 0h0m5 0h0m83 0h0m2 0h0m7 0h0m5 0h0m-150 1h0m3 0h0m11 0h0m3 0h0m1 0h0m2 0h0m17 0h0m90 0h0m9 0h0m3 0h0m5 0h0m3 0h0m4 0h0m3 0h0m3 0h0m-148 1h0m3 0h0m10 0h0m7 0h0m2 0h0m9 0h0m5 0h0m2 0h0m4 0h0m4 0h0m5 0h0m85 0h0m4 0h0m8 0h0m3 0h0m-145 1h0m8 0h0m1 0h0m1 0h0m2 0h0m10 0h0m4 0h0m1 0h0m110 0h0m3 0h0m-141 1h0m3 0h0m5 0h0m4 0h0m3 0h0m2 0h0m1 0h0m4 0h0m1 0h0m5 0h0m6 0h0m5 0h0m2 0h0m6 0h0m94 0h0m3 0h0m-149 1h0m2 0h0m9 0h0m5 0h0m8 0h0m10 0h0m16 0h0m71 0h0m4 0h0m3 0h0m7 0h0m5 0h0m-128 1h0m13 0h0m19 0h0m110 0h0m-146 1h0m8 0h0m8 0h0m5 0h0m5 0h0m2 0h0m4 0h0m2 0h0m4 0h0m2 0h0m4 0h0m67 0h0m1 0h0m4 0h0m23 0h0m7 0h0m-151 1h0m1 0h0m4 0h0m2 0h0m7 0h0m4 0h0m1 0h0m9 0h0m5 0h0m2 0h0m68 0h0m7 0h0m5 0h0m38 0h0m-157 1h0m7 0h0m9 0h0m1 0h0m10 0h0m1 0h0m5 0h0m6 0h0m101 0h0m9 0h0m-147 1h0m9 0h0m2 0h0m2 0h0m2 0h0m1 0h0m21 0h0m19 0h0m55 0h0m5 0h0m41 0h0m-150 1h0m3 0h0m3 0h0m3 0h0m11 0h0m3 0h0m1 0h0m1 0h0m10 0h0m79 0h0m-124 1h0m12 0h0m1 0h0m5 0h0m2 0h0m11 0h0m7 0h0m3 0h0m1 0h0m2 0h0m6 0h0m74 0h0m25 0h0m-138 1h0m12 0h0m8 0h0m7 0h0m4 0h0m8 0h0m8 0h0m53 0h0m32 0h0m1 0h0m10 0h0m7 0h0m-157 1h0m2 0h0m4 0h0m2 0h0m2 0h0m2 0h0m21 0h0m3 0h0m7 0h0m3 0h0m71 0h0m19 0h0m13 0h0m5 0h0m-157 1h0m7 0h0m1 0h0m6 0h0m1 0h0m1 0h0m6 0h0m9 0h0m3 0h0m5 0h0m1 0h0m4 0h0m73 0h0m34 0h0m4 0h0m-153 1h0m8 0h0m1 0h0m5 0h0m10 0h0m5 0h0m86 0h0m3 0h0m1 0h0m3 0h0m8 0h0m15 0h0m7 0h0m3 0h0m6 0h0m-160 1h0m6 0h0m5 0h0m2 0h0m1 0h0m3 0h0m7 0h0m2 0h0m89 0h0m-118 1h0m11 0h0m3 0h0m7 0h0m6 0h0m1 0h0m1 0h0m3 0h0m3 0h0m7 0h0m76 0h0m3 0h0m3 0h0m2 0h0m22 0h0m1 0h0m-139 1h0m15 0h0m3 0h0m12 0h0m87 0h0m16 0h0m-134 1h0m21 0h0m5 0h0m109 0h0m3 0h0m1 0h0m-123 1h0m2 0h0m1 0h0m5 0h0m83 0h0m7 0h0m1 0h0m4 0h0m18 0h0m5 0h0m-151 1h0m17 0h0m4 0h0m1 0h0m5 0h0m2 0h0m8 0h0m93 0h0m16 0h0m10 0h0m-152 1h0m11 0h0m11 0h0m1 0h0m26 0h0m64 0h0m13 0h0m6 0h0m3 0h0m9 0h0m1 0h0m1 0h0m4 0h0m-32 1h0m15 0h0m1 0h0m9 0h0m-131 1h0m5 0h0m5 0h0m4 0h0m1 0h0m17 0h0m75 0h0m8 0h0m1 0h0m13 0h0m3 0h0m4 0h0m1 0h0m-153 1h0m8 0h0m22 0h0m17 0h0m71 0h0m12 0h0m3 0h0m11 0h0m1 0h0m14 0h0m-140 1h0m8 0h0m6 0h0m12 0h0m76 0h0m3 0h0m9 0h0m14 0h0m-113 48h0m110 1h0m-112 2h0m100 0h0m-106 1h0m7 0h0m-1 2h0m111 0h0m-8 1h0m6 1h0m6 0h0m0 1h0m2 0h0m-114 1h0m-4 1h0m98 0h0m2 0h0m13 0h0m5 0h0m-114 1h0m97 0h0m12 0h0m3 0h0m1 0h0m-122 1h0m2 0h0m2 0h0m1 0h0m3 0h0m2 0h0m1 0h0m7 0h0m95 0h0m5 0h0m17 0h0m-139 1h0m6 0h0m5 0h0m2 0h0m1 0h0m105 0h0m1 0h0m4 0h0m-116 1h0m4 0h0m1 0h0m3 0h0m9 0h0m87 0h0m4 0h0m3 0h0m13 0h0m-125 1h0m7 0h0m1 0h0m94 0h0m4 0h0m4 0h0m2 0h0m5 0h0m3 0h0m-125 1h0m4 0h0m1 0h0m8 0h0m85 0h0m6 0h0m9 0h0m3 0h0m8 0h0m1 0h0m-125 1h0m4 0h0m2 0h0m4 0h0m15 0h0m88 0h0m6 0h0m3 0h0m3 0h0m-127 1h0m3 0h0m1 0h0m1 0h0m1 0h0m1 0h0m2 0h0m1 0h0m3 0h0m3 0h0m98 0h0m2 0h0m2 0h0m1 0h0m1 0h0m2 0h0m8 0h0m-131 1h0m2 0h0m4 0h0m2 0h0m1 0h0m1 0h0m2 0h0m1 0h0m3 0h0m99 0h0m1 0h0m2 0h0m1 0h0m1 0h0m1 0h0m-115 1h0m1 0h0m3 0h0m1 0h0m6 0h0m1 0h0m92 0h0m3 0h0m3 0h0m3 0h0m3 0h0m1 0h0m2 0h0m-123 1h0m6 0h0m1 0h0m1 0h0m1 0h0m98 0h0m2 0h0m3 0h0m2 0h0m2 0h0m1 0h0m1 0h0m-111 1h0m1 0h0m4 0h0m1 0h0m2 0h0m1 0h0m97 0h0m8 0h0m2 0h0m-116 1h0m2 0h0m1 0h0m1 0h0m6 0h0m96 0h0m4 0h0m1 0h0m2 0h0m-117 1h0m2 0h0m3 0h0m1 0h0m3 0h0m5 0h0m91 0h0m1 0h0m6 0h0m1 0h0m2 0h0m1 0h0m1 0h0m1 0h0m1 0h0m3 0h0m1 0h0m11 0h0m-142 1h0m3 0h0m3 0h0m2 0h0m1 0h0m1 0h0m1 0h0m1 0h0m2 0h0m6 0h0m1 0h0m90 0h0m1 0h0m1 0h0m3 0h0m1 0h0m1 0h0m1 0h0m1 0h0m1 0h0m3 0h0m1 0h0m3 0h0m-126 1h0m8 0h0m1 0h0m98 0h0m4 0h0m4 0h0m5 0h0m1 0h0m2 0h0m3 0h0m-126 1h0m1 0h0m2 0h0m2 0h0m1 0h0m3 0h0m1 0h0m1 0h0m1 0h0m7 0h0m10 0h0m83 0h0m3 0h0m1 0h0m2 0h0m1 0h0m2 0h0m1 0h0m2 0h0m1 0h0m-120 1h0m2 0h0m1 0h0m1 0h0m1 0h0m1 0h0m2 0h0m95 0h0m6 0h0m2 0h0m2 0h0m1 0h0m1 0h0m1 0h0m1 0h0m-117 1h0m1 0h0m2 0h0m1 0h0m1 0h0m1 0h0m5 0h0m89 0h0m9 0h0m3 0h0m2 0h0m1 0h0m1 0h0m2 0h0m1 0h0m-118 1h0m1 0h0m2 0h0m1 0h0m1 0h0m7 0h0m92 0h0m4 0h0m1 0h0m1 0h0m2 0h0m1 0h0m3 0h0m-123 1h0m4 0h0m2 0h0m5 0h0m2 0h0m1 0h0m3 0h0m3 0h0m11 0h0m79 0h0m7 0h0m2 0h0m3 0h0m1 0h0m5 0h0m12 0h0m-135 1h0m4 0h0m1 0h0m1 0h0m1 0h0m6 0h0m4 0h0m93 0h0m2 0h0m1 0h0m2 0h0m2 0h0m3 0h0m-114 1h0m2 0h0m6 0h0m2 0h0m90 0h0m8 0h0m2 0h0m1 0h0m1 0h0m1 0h0m-123 1h0m2 0h0m6 0h0m4 0h0m1 0h0m94 0h0m7 0h0m4 0h0m1 0h0m4 0h0m-113 1h0m1 0h0m96 0h0m11 0h0m2 0h0m4 0h0m-112 1h0m1 0h0m96 0h0m4 0h0m4 0h0m3 0h0m1 0h0m8 0h0m-120 1h0m4 0h0m2 0h0m100 0h0m11 0h0m1 0h0m-116 1h0m1 0h0" stroke="#666666" stroke-width="1" stroke-linecap="square" fill="none"/><path d="M390.5 425.5h0m111 0h0m-111 1h0m111 0h0m1 0h0m-112 1h0m111 0h0m2 0h0m-3 1h0m2 0h0m1 0h0m-1 1h0m2 0h0m-114 1h0m110 0h0m1 0h0m1 0h0m1 0h0m-115 1h0m1 0h0m2 0h0m110 0h0m1 0h0m1 0h0m-113 1h0m111 0h0m1 0h0m1 0h0m1 0h0m-4 1h0m1 0h0m1 0h0m1 0h0m1 0h0m-114 1h0m110 0h0m1 0h0m1 0h0m1 0h0m1 0h0m-4 1h0m1 0h0m1 0h0m1 0h0m1 0h0m1 0h0m-116 1h0m1 0h0m110 0h0m1 0h0m1 0h0m1 0h0m-114 1h0m112 0h0m1 0h0m1 0h0m1 0h0m-4 1h0m1 0h0m1 0h0m1 0h0m-114 1h0m1 0h0m110 0h0m1 0h0m1 0h0m1 0h0m-114 1h0m112 0h0m1 0h0m1 0h0m1 0h0m-115 1h0m1 0h0m110 0h0m1 0h0m1 0h0m1 0h0m-114 1h0m112 0h0m1 0h0m1 0h0m1 0h0m-115 1h0m112 0h0m1 0h0m1 0h0m1 0h0m-114 1h0m113 0h0m2 0h0m-116 1h0m1 0h0m111 0h0m1 0h0m1 0h0m-142 29h0m1 0h0m3 0h0m9 0h0m12 0h0m-25 1h0m2 0h0m4 0h0m1 0h0m4 0h0m13 0h0m-21 1h0m2 0h0m1 0h0m2 0h0m2 0h0m1 0h0m4 0h0m7 0h0m1 0h0m1 0h0m1 0h0m-20 1h0m4 0h0m1 0h0m1 0h0m4 0h0m2 0h0m3 0h0m-20 1h0m3 0h0m1 0h0m1 0h0m3 0h0m1 0h0m1 0h0m1 0h0m7 0h0m4 0h0m1 0h0m-22 1h0m1 0h0m1 0h0m4 0h0m1 0h0m1 0h0m1 0h0m1 0h0m3 0h0m1 0h0m4 0h0m1 0h0m1 0h0m5 0h0m-28 1h0m3 0h0m1 0h0m1 0h0m1 0h0m1 0h0m2 0h0m1 0h0m1 0h0m1 0h0m2 0h0m1 0h0m1 0h0m1 0h0m1 0h0m1 0h0m1 0h0m2 0h0m1 0h0m1 0h0m4 0h0m1 0h0m-36 1h0m1 0h0m9 0h0m1 0h0m2 0h0m1 0h0m1 0h0m2 0h0m2 0h0m1 0h0m2 0h0m2 0h0m2 0h0m2 0h0m1 0h0m1 0h0m3 0h0m1 0h0m-27 1h0m1 0h0m1 0h0m1 0h0m1 0h0m4 0h0m1 0h0m1 0h0m1 0h0m2 0h0m1 0h0m1 0h0m1 0h0m1 0h0m1 0h0m1 0h0m1 0h0m1 0h0m1 0h0m3 0h0m3 0h0m1 0h0m-33 1h0m2 0h0m1 0h0m1 0h0m1 0h0m2 0h0m1 0h0m1 0h0m1 0h0m1 0h0m1 0h0m1 0h0m1 0h0m1 0h0m1 0h0m1 0h0m1 0h0m1 0h0m1 0h0m1 0h0m1 0h0m1 0h0m3 0h0m1 0h0m1 0h0m1 0h0m4 0h0m1 0h0m1 0h0m1 0h0m1 0h0m-38 1h0m1 0h0m1 0h0m2 0h0m1 0h0m4 0h0m1 0h0m1 0h0m1 0h0m1 0h0m1 0h0m1 0h0m1 0h0m1 0h0m1 0h0m1 0h0m1 0h0m1 0h0m1 0h0m1 0h0m1 0h0m1 0h0m1 0h0m1 0h0m2 0h0m1 0h0m3 0h0m1 0h0m1 0h0m-35 1h0m4 0h0m1 0h0m2 0h0m1 0h0m1 0h0m1 0h0m1 0h0m1 0h0m1 0h0m1 0h0m1 0h0m1 0h0m1 0h0m1 0h0m1 0h0m1 0h0m1 0h0m1 0h0m1 0h0m1 0h0m1 0h0m1 0h0m1 0h0m1 0h0m1 0h0m1 0h0m1 0h0m2 0h0m2 0h0m1 0h0m-31 1h0m1 0h0m1 0h0m3 0h0m1 0h0m1 0h0m1 0h0m1 0h0m1 0h0m1 0h0m1 0h0m1 0h0m1 0h0m1 0h0m1 0h0m1 0h0m1 0h0m1 0h0m1 0h0m1 0h0m1 0h0m1 0h0m1 0h0m2 0h0m1 0h0m1 0h0m3 0h0m-31 1h0m1 0h0m2 0h0m1 0h0m1 0h0m1 0h0m1 0h0m1 0h0m1 0h0m1 0h0m1 0h0m1 0h0m1 0h0m1 0h0m1 0h0m1 0h0m1 0h0m1 0h0m1 0h0m1 0h0m1 0h0m1 0h0m1 0h0m1 0h0m1 0h0m1 0h0m1 0h0m2 0h0m1 0h0m3 0h0m-34 1h0m2 0h0m2 0h0m1 0h0m1 0h0m1 0h0m1 0h0m1 0h0m1 0h0m1 0h0m1 0h0m1 0h0m1 0h0m1 0h0m1 0h0m1 0h0m1 0h0m1 0h0m1 0h0m1 0h0m1 0h0m1 0h0m1 0h0m1 0h0m1 0h0m2 0h0m1 0h0m3 0h0m2 0h0m3 0h0m-37 1h0m2 0h0m2 0h0m1 0h0m1 0h0m1 0h0m1 0h0m1 0h0m1 0h0m1 0h0m1 0h0m1 0h0m1 0h0m1 0h0m1 0h0m1 0h0m1 0h0m1 0h0m1 0h0m1 0h0m1 0h0m1 0h0m1 0h0m2 0h0m1 0h0m1 0h0m1 0h0m1 0h0m1 0h0m-33 1h0m1 0h0m2 0h0m1 0h0m1 0h0m1 0h0m1 0h0m1 0h0m1 0h0m1 0h0m1 0h0m1 0h0m1 0h0m1 0h0m1 0h0m1 0h0m1 0h0m1 0h0m1 0h0m1 0h0m1 0h0m1 0h0m1 0h0m1 0h0m1 0h0m1 0h0m1 0h0m1 0h0m1 0h0m1 0h0m2 0h0m1 0h0m-38 1h0m2 0h0m3 0h0m5 0h0m1 0h0m1 0h0m1 0h0m1 0h0m1 0h0m1 0h0m1 0h0m1 0h0m1 0h0m1 0h0m1 0h0m1 0h0m1 0h0m1 0h0m1 0h0m1 0h0m3 0h0m1 0h0m2 0h0m1 0h0m1 0h0m2 0h0m1 0h0m3 0h0m3 0h0m-37 1h0m1 0h0m3 0h0m2 0h0m1 0h0m1 0h0m1 0h0m1 0h0m1 0h0m1 0h0m1 0h0m2 0h0m1 0h0m1 0h0m1 0h0m1 0h0m1 0h0m1 0h0m1 0h0m1 0h0m1 0h0m1 0h0m1 0h0m2 0h0m1 0h0m1 0h0m2 0h0m4 0h0m88 0h0m-125 1h0m3 0h0m1 0h0m1 0h0m2 0h0m1 0h0m1 0h0m1 0h0m1 0h0m1 0h0m1 0h0m1 0h0m1 0h0m1 0h0m1 0h0m1 0h0m1 0h0m1 0h0m1 0h0m1 0h0m1 0h0m1 0h0m1 0h0m2 0h0m1 0h0m5 0h0m3 0h0m-33 1h0m1 0h0m1 0h0m1 0h0m1 0h0m1 0h0m1 0h0m1 0h0m1 0h0m1 0h0m1 0h0m1 0h0m1 0h0m1 0h0m1 0h0m1 0h0m1 0h0m1 0h0m1 0h0m1 0h0m1 0h0m1 0h0m2 0h0m1 0h0m1 0h0m1 0h0m2 0h0m81 0h0m13 0h0m-127 1h0m3 0h0m3 0h0m4 0h0m1 0h0m1 0h0m1 0h0m2 0h0m1 0h0m1 0h0m2 0h0m1 0h0m1 0h0m1 0h0m1 0h0m1 0h0m1 0h0m1 0h0m1 0h0m1 0h0m1 0h0m1 0h0m1 0h0m5 0h0m85 0h0m5 0h0m-123 1h0m4 0h0m1 0h0m1 0h0m1 0h0m1 0h0m1 0h0m1 0h0m1 0h0m1 0h0m1 0h0m1 0h0m1 0h0m1 0h0m1 0h0m1 0h0m1 0h0m1 0h0m1 0h0m1 0h0m1 0h0m1 0h0m1 0h0m1 0h0m1 0h0m2 0h0m3 0h0m77 0h0m4 0h0m4 0h0m2 0h0m4 0h0m7 0h0m3 0h0m-144 1h0m10 0h0m6 0h0m4 0h0m1 0h0m1 0h0m2 0h0m1 0h0m1 0h0m1 0h0m1 0h0m1 0h0m2 0h0m1 0h0m1 0h0m1 0h0m1 0h0m2 0h0m8 0h0m6 0h0m75 0h0m5 0h0m8 0h0m2 0h0m6 0h0m-146 1h0m14 0h0m3 0h0m1 0h0m2 0h0m1 0h0m1 0h0m1 0h0m1 0h0m1 0h0m1 0h0m1 0h0m2 0h0m1 0h0m1 0h0m2 0h0m1 0h0m2 0h0m1 0h0m95 0h0m2 0h0m1 0h0m1 0h0m7 0h0m1 0h0m-131 1h0m2 0h0m1 0h0m1 0h0m1 0h0m2 0h0m1 0h0m2 0h0m1 0h0m1 0h0m1 0h0m1 0h0m1 0h0m1 0h0m1 0h0m1 0h0m1 0h0m4 0h0m1 0h0m5 0h0m81 0h0m1 0h0m5 0h0m6 0h0m1 0h0m1 0h0m-125 1h0m6 0h0m3 0h0m1 0h0m3 0h0m2 0h0m1 0h0m2 0h0m1 0h0m2 0h0m2 0h0m2 0h0m9 0h0m74 0h0m3 0h0m7 0h0m1 0h0m2 0h0m-122 1h0m3 0h0m4 0h0m1 0h0m1 0h0m1 0h0m2 0h0m1 0h0m1 0h0m3 0h0m1 0h0m3 0h0m85 0h0m6 0h0m2 0h0m1 0h0m3 0h0m1 0h0m2 0h0m1 0h0m2 0h0m1 0h0m1 0h0m1 0h0m7 0h0m-132 1h0m6 0h0m2 0h0m2 0h0m1 0h0m1 0h0m1 0h0m1 0h0m4 0h0m6 0h0m4 0h0m81 0h0m2 0h0m3 0h0m1 0h0m1 0h0m3 0h0m1 0h0m1 0h0m1 0h0m1 0h0m1 0h0m6 0h0m-124 1h0m1 0h0m1 0h0m2 0h0m1 0h0m2 0h0m3 0h0m2 0h0m4 0h0m4 0h0m2 0h0m77 0h0m3 0h0m4 0h0m2 0h0m1 0h0m1 0h0m1 0h0m1 0h0m1 0h0m1 0h0m1 0h0m1 0h0m1 0h0m5 0h0m1 0h0m-123 1h0m1 0h0m5 0h0m1 0h0m2 0h0m4 0h0m2 0h0m4 0h0m83 0h0m1 0h0m1 0h0m1 0h0m2 0h0m2 0h0m1 0h0m1 0h0m2 0h0m1 0h0m1 0h0m1 0h0m3 0h0m1 0h0m1 0h0m2 0h0m4 0h0m-130 1h0m6 0h0m2 0h0m3 0h0m7 0h0m4 0h0m83 0h0m4 0h0m1 0h0m1 0h0m1 0h0m1 0h0m2 0h0m1 0h0m1 0h0m1 0h0m1 0h0m1 0h0m1 0h0m1 0h0m1 0h0m1 0h0m2 0h0m1 0h0m-115 1h0m1 0h0m3 0h0m3 0h0m5 0h0m77 0h0m4 0h0m1 0h0m4 0h0m1 0h0m2 0h0m1 0h0m1 0h0m1 0h0m1 0h0m1 0h0m1 0h0m2 0h0m1 0h0m2 0h0m1 0h0m1 0h0m4 0h0m3 0h0m-131 1h0m102 0h0m1 0h0m1 0h0m2 0h0m2 0h0m1 0h0m1 0h0m1 0h0m1 0h0m1 0h0m1 0h0m1 0h0m1 0h0m1 0h0m1 0h0m1 0h0m1 0h0m1 0h0m3 0h0m4 0h0m3 0h0m-34 1h0m3 0h0m1 0h0m1 0h0m1 0h0m1 0h0m1 0h0m1 0h0m1 0h0m1 0h0m1 0h0m1 0h0m1 0h0m1 0h0m1 0h0m1 0h0m1 0h0m1 0h0m1 0h0m1 0h0m2 0h0m1 0h0m2 0h0m1 0h0m1 0h0m-25 1h0m3 0h0m1 0h0m1 0h0m1 0h0m1 0h0m1 0h0m1 0h0m1 0h0m1 0h0m1 0h0m1 0h0m1 0h0m1 0h0m1 0h0m1 0h0m1 0h0m2 0h0m1 0h0m1 0h0m2 0h0m1 0h0m2 0h0m1 0h0m3 0h0m-140 1h0m22 0h0m84 0h0m2 0h0m1 0h0m2 0h0m1 0h0m1 0h0m1 0h0m1 0h0m1 0h0m1 0h0m1 0h0m1 0h0m1 0h0m1 0h0m1 0h0m1 0h0m1 0h0m1 0h0m1 0h0m2 0h0m1 0h0m1 0h0m1 0h0m3 0h0m1 0h0m1 0h0m1 0h0m1 0h0m-31 1h0m4 0h0m1 0h0m4 0h0m1 0h0m1 0h0m1 0h0m1 0h0m1 0h0m1 0h0m1 0h0m1 0h0m1 0h0m1 0h0m1 0h0m1 0h0m2 0h0m1 0h0m1 0h0m1 0h0m3 0h0m4 0h0m-37 1h0m9 0h0m1 0h0m1 0h0m1 0h0m1 0h0m1 0h0m1 0h0m1 0h0m1 0h0m1 0h0m1 0h0m2 0h0m1 0h0m1 0h0m1 0h0m1 0h0m1 0h0m1 0h0m2 0h0m1 0h0m1 0h0m4 0h0m-28 1h0m2 0h0m1 0h0m1 0h0m1 0h0m1 0h0m1 0h0m1 0h0m1 0h0m1 0h0m1 0h0m1 0h0m1 0h0m1 0h0m1 0h0m1 0h0m1 0h0m1 0h0m1 0h0m1 0h0m1 0h0m4 0h0m12 0h0m-41 1h0m1 0h0m1 0h0m2 0h0m1 0h0m1 0h0m1 0h0m1 0h0m1 0h0m1 0h0m1 0h0m1 0h0m1 0h0m1 0h0m2 0h0m1 0h0m1 0h0m1 0h0m1 0h0m1 0h0m1 0h0m1 0h0m1 0h0m1 0h0m1 0h0m1 0h0m1 0h0m2 0h0m-25 1h0m1 0h0m1 0h0m1 0h0m1 0h0m1 0h0m1 0h0m1 0h0m1 0h0m1 0h0m1 0h0m1 0h0m1 0h0m1 0h0m1 0h0m1 0h0m1 0h0m1 0h0m1 0h0m2 0h0m1 0h0m1 0h0m1 0h0m2 0h0m-35 1h0m7 0h0m3 0h0m1 0h0m2 0h0m1 0h0m1 0h0m1 0h0m1 0h0m1 0h0m1 0h0m1 0h0m1 0h0m1 0h0m1 0h0m1 0h0m1 0h0m1 0h0m1 0h0m1 0h0m1 0h0m1 0h0m1 0h0m1 0h0m3 0h0m1 0h0m-28 1h0m1 0h0m1 0h0m1 0h0m2 0h0m1 0h0m1 0h0m1 0h0m1 0h0m1 0h0m1 0h0m1 0h0m1 0h0m1 0h0m1 0h0m1 0h0m1 0h0m1 0h0m1 0h0m1 0h0m1 0h0m1 0h0m1 0h0m1 0h0m1 0h0m3 0h0m-29 1h0m4 0h0m1 0h0m1 0h0m2 0h0m1 0h0m1 0h0m1 0h0m1 0h0m1 0h0m1 0h0m1 0h0m1 0h0m1 0h0m1 0h0m1 0h0m1 0h0m2 0h0m1 0h0m1 0h0m1 0h0m-21 1h0m1 0h0m1 0h0m1 0h0m1 0h0m1 0h0m1 0h0m1 0h0m1 0h0m1 0h0m1 0h0m1 0h0m1 0h0m1 0h0m1 0h0m1 0h0m1 0h0m1 0h0m1 0h0m1 0h0m1 0h0m1 0h0m1 0h0m1 0h0m-25 1h0m1 0h0m1 0h0m1 0h0m3 0h0m1 0h0m1 0h0m1 0h0m1 0h0m2 0h0m1 0h0m1 0h0m1 0h0m1 0h0m1 0h0m1 0h0m1 0h0m3 0h0m-28 1h0m4 0h0m2 0h0m2 0h0m1 0h0m2 0h0m2 0h0m1 0h0m1 0h0m1 0h0m1 0h0m1 0h0m1 0h0m1 0h0m2 0h0m1 0h0m2 0h0m1 0h0m1 0h0m11 0h0m-31 1h0m1 0h0m1 0h0m1 0h0m1 0h0m1 0h0m1 0h0m1 0h0m1 0h0m1 0h0m1 0h0m1 0h0m2 0h0m1 0h0m2 0h0m1 0h0m2 0h0m-20 1h0m5 0h0m3 0h0m1 0h0m1 0h0m1 0h0m3 0h0m1 0h0m1 0h0m1 0h0m1 0h0m8 0h0m-29 1h0m3 0h0m1 0h0m1 0h0m1 0h0m4 0h0m3 0h0m1 0h0m1 0h0m1 0h0m1 0h0m1 0h0m2 0h0m4 0h0m1 0h0m-17 1h0m2 0h0m1 0h0m2 0h0m4 0h0m7 0h0m6 0h0m-26 1h0m6 0h0m1 0h0m4 0h0m1 0h0m2 0h0m3 0h0m6 0h0m-19 1h0m1 0h0m6 0h0m4 0h0m6 0h0m-18 1h0m5 0h0m1 0h0m1 0h0m-121 33h0m3 0h0m3 1h0m16 0h0m3 2h0m3 0h0m-27 1h0m3 0h0m4 0h0m2 1h0m2 0h0m6 0h0m-10 1h0m6 0h0m10 0h0m-29 1h0m12 0h0m6 0h0m11 0h0m3 0h0m-31 1h0m14 0h0m4 0h0m-22 1h0m9 0h0m7 0h0m1 0h0m1 0h0m4 0h0m1 0h0m7 0h0m3 0h0m3 0h0m-24 1h0m9 0h0m2 0h0m3 0h0m1 0h0m14 0h0m2 0h0m-44 1h0m13 0h0m4 0h0m2 0h0m5 0h0m2 0h0m1 0h0m2 0h0m11 0h0m2 0h0m1 0h0m7 0h0m-37 1h0m5 0h0m8 0h0m1 0h0m1 0h0m2 0h0m1 0h0m1 0h0m5 0h0m1 0h0m102 0h0m-128 1h0m4 0h0m3 0h0m2 0h0m3 0h0m4 0h0m4 0h0m3 0h0m1 0h0m23 0h0m74 0h0m-123 1h0m7 0h0m6 0h0m2 0h0m1 0h0m1 0h0m1 0h0m1 0h0m2 0h0m3 0h0m3 0h0m1 0h0m1 0h0m2 0h0m93 0h0m5 0h0m-122 1h0m3 0h0m1 0h0m1 0h0m4 0h0m1 0h0m2 0h0m1 0h0m1 0h0m3 0h0m3 0h0m2 0h0m2 0h0m1 0h0m-34 1h0m1 0h0m4 0h0m2 0h0m1 0h0m6 0h0m1 0h0m2 0h0m1 0h0m2 0h0m1 0h0m3 0h0m6 0h0m1 0h0m99 0h0m4 0h0m-141 1h0m4 0h0m2 0h0m10 0h0m3 0h0m1 0h0m1 0h0m1 0h0m1 0h0m1 0h0m3 0h0m1 0h0m1 0h0m1 0h0m2 0h0m1 0h0m1 0h0m1 0h0m1 0h0m95 0h0m4 0h0m3 0h0m6 0h0m-137 1h0m1 0h0m2 0h0m1 0h0m3 0h0m5 0h0m1 0h0m2 0h0m1 0h0m1 0h0m1 0h0m1 0h0m1 0h0m2 0h0m3 0h0m4 0h0m1 0h0m1 0h0m1 0h0m3 0h0m2 0h0m84 0h0m6 0h0m4 0h0m6 0h0m6 0h0m-142 1h0m2 0h0m3 0h0m1 0h0m3 0h0m1 0h0m2 0h0m2 0h0m1 0h0m3 0h0m3 0h0m1 0h0m3 0h0m1 0h0m1 0h0m1 0h0m2 0h0m4 0h0m3 0h0m70 0h0m3 0h0m12 0h0m3 0h0m6 0h0m4 0h0m-134 1h0m1 0h0m1 0h0m2 0h0m1 0h0m2 0h0m2 0h0m5 0h0m1 0h0m1 0h0m1 0h0m4 0h0m1 0h0m1 0h0m1 0h0m1 0h0m1 0h0m2 0h0m6 0h0m72 0h0m16 0h0m2 0h0m2 0h0m2 0h0m6 0h0m1 0h0m3 0h0m-145 1h0m3 0h0m5 0h0m3 0h0m2 0h0m2 0h0m2 0h0m1 0h0m1 0h0m2 0h0m3 0h0m1 0h0m1 0h0m2 0h0m1 0h0m1 0h0m1 0h0m1 0h0m1 0h0m1 0h0m2 0h0m2 0h0m88 0h0m2 0h0m6 0h0m1 0h0m1 0h0m3 0h0m2 0h0m1 0h0m1 0h0m3 0h0m2 0h0m-140 1h0m1 0h0m3 0h0m4 0h0m1 0h0m1 0h0m2 0h0m2 0h0m1 0h0m2 0h0m1 0h0m1 0h0m1 0h0m1 0h0m3 0h0m1 0h0m2 0h0m3 0h0m2 0h0m4 0h0m69 0h0m9 0h0m1 0h0m3 0h0m1 0h0m1 0h0m3 0h0m3 0h0m1 0h0m5 0h0m7 0h0m-142 1h0m3 0h0m2 0h0m1 0h0m1 0h0m1 0h0m1 0h0m3 0h0m1 0h0m1 0h0m1 0h0m1 0h0m1 0h0m1 0h0m1 0h0m1 0h0m1 0h0m1 0h0m1 0h0m2 0h0m1 0h0m2 0h0m1 0h0m1 0h0m6 0h0m5 0h0m1 0h0m61 0h0m12 0h0m4 0h0m3 0h0m3 0h0m2 0h0m1 0h0m4 0h0m1 0h0m3 0h0m1 0h0m1 0h0m4 0h0m-134 1h0m1 0h0m1 0h0m2 0h0m1 0h0m1 0h0m1 0h0m1 0h0m2 0h0m1 0h0m1 0h0m1 0h0m1 0h0m1 0h0m3 0h0m1 0h0m1 0h0m2 0h0m2 0h0m1 0h0m83 0h0m2 0h0m5 0h0m2 0h0m1 0h0m1 0h0m2 0h0m1 0h0m2 0h0m1 0h0m1 0h0m1 0h0m2 0h0m5 0h0m7 0h0m-154 1h0m2 0h0m5 0h0m3 0h0m4 0h0m1 0h0m1 0h0m1 0h0m1 0h0m1 0h0m1 0h0m1 0h0m1 0h0m1 0h0m1 0h0m1 0h0m1 0h0m1 0h0m2 0h0m1 0h0m1 0h0m1 0h0m2 0h0m2 0h0m3 0h0m5 0h0m3 0h0m75 0h0m2 0h0m1 0h0m4 0h0m2 0h0m1 0h0m1 0h0m1 0h0m2 0h0m1 0h0m3 0h0m1 0h0m3 0h0m9 0h0m-146 1h0m4 0h0m1 0h0m2 0h0m1 0h0m1 0h0m1 0h0m2 0h0m2 0h0m3 0h0m1 0h0m1 0h0m1 0h0m1 0h0m1 0h0m1 0h0m4 0h0m3 0h0m2 0h0m2 0h0m3 0h0m66 0h0m11 0h0m3 0h0m2 0h0m1 0h0m1 0h0m1 0h0m1 0h0m3 0h0m1 0h0m1 0h0m2 0h0m1 0h0m1 0h0m2 0h0m1 0h0m1 0h0m2 0h0m1 0h0m3 0h0m-146 1h0m9 0h0m5 0h0m2 0h0m1 0h0m1 0h0m1 0h0m1 0h0m1 0h0m1 0h0m4 0h0m2 0h0m3 0h0m1 0h0m1 0h0m7 0h0m73 0h0m3 0h0m2 0h0m1 0h0m1 0h0m2 0h0m1 0h0m1 0h0m1 0h0m1 0h0m1 0h0m1 0h0m1 0h0m1 0h0m1 0h0m1 0h0m1 0h0m1 0h0m1 0h0m1 0h0m1 0h0m1 0h0m1 0h0m5 0h0m2 0h0m-146 1h0m6 0h0m2 0h0m3 0h0m1 0h0m1 0h0m2 0h0m1 0h0m2 0h0m3 0h0m1 0h0m4 0h0m2 0h0m1 0h0m3 0h0m1 0h0m1 0h0m3 0h0m66 0h0m12 0h0m4 0h0m1 0h0m1 0h0m1 0h0m2 0h0m1 0h0m1 0h0m1 0h0m1 0h0m1 0h0m1 0h0m1 0h0m1 0h0m1 0h0m1 0h0m1 0h0m2 0h0m1 0h0m1 0h0m1 0h0m2 0h0m2 0h0m1 0h0m4 0h0m-154 1h0m6 0h0m1 0h0m3 0h0m1 0h0m1 0h0m2 0h0m2 0h0m1 0h0m2 0h0m1 0h0m1 0h0m1 0h0m1 0h0m1 0h0m1 0h0m2 0h0m1 0h0m1 0h0m1 0h0m1 0h0m1 0h0m1 0h0m1 0h0m1 0h0m2 0h0m1 0h0m1 0h0m72 0h0m8 0h0m1 0h0m1 0h0m1 0h0m2 0h0m2 0h0m2 0h0m1 0h0m2 0h0m1 0h0m1 0h0m1 0h0m1 0h0m1 0h0m2 0h0m1 0h0m1 0h0m1 0h0m2 0h0m1 0h0m1 0h0m3 0h0m1 0h0m-143 1h0m4 0h0m1 0h0m2 0h0m2 0h0m1 0h0m1 0h0m2 0h0m1 0h0m1 0h0m1 0h0m2 0h0m1 0h0m3 0h0m1 0h0m1 0h0m1 0h0m1 0h0m1 0h0m1 0h0m2 0h0m1 0h0m4 0h0m70 0h0m2 0h0m4 0h0m1 0h0m4 0h0m1 0h0m1 0h0m1 0h0m1 0h0m2 0h0m1 0h0m1 0h0m1 0h0m1 0h0m1 0h0m1 0h0m1 0h0m1 0h0m1 0h0m1 0h0m1 0h0m1 0h0m1 0h0m1 0h0m1 0h0m1 0h0m1 0h0m1 0h0m1 0h0m1 0h0m2 0h0m1 0h0m1 0h0m3 0h0m-147 1h0m4 0h0m1 0h0m1 0h0m1 0h0m1 0h0m1 0h0m3 0h0m1 0h0m1 0h0m1 0h0m1 0h0m1 0h0m2 0h0m1 0h0m1 0h0m1 0h0m2 0h0m1 0h0m1 0h0m1 0h0m2 0h0m3 0h0m1 0h0m78 0h0m1 0h0m3 0h0m1 0h0m1 0h0m2 0h0m1 0h0m1 0h0m1 0h0m1 0h0m1 0h0m1 0h0m1 0h0m1 0h0m1 0h0m1 0h0m1 0h0m1 0h0m1 0h0m1 0h0m1 0h0m1 0h0m1 0h0m1 0h0m1 0h0m1 0h0m3 0h0m1 0h0m-144 1h0m1 0h0m3 0h0m5 0h0m2 0h0m2 0h0m1 0h0m1 0h0m5 0h0m1 0h0m2 0h0m1 0h0m3 0h0m1 0h0m1 0h0m1 0h0m4 0h0m1 0h0m79 0h0m1 0h0m1 0h0m1 0h0m2 0h0m1 0h0m1 0h0m1 0h0m1 0h0m1 0h0m1 0h0m1 0h0m1 0h0m1 0h0m1 0h0m1 0h0m1 0h0m1 0h0m1 0h0m1 0h0m1 0h0m1 0h0m1 0h0m1 0h0m1 0h0m1 0h0m1 0h0m1 0h0m2 0h0m1 0h0m4 0h0m-147 1h0m1 0h0m3 0h0m2 0h0m4 0h0m1 0h0m1 0h0m1 0h0m1 0h0m2 0h0m1 0h0m4 0h0m1 0h0m1 0h0m3 0h0m1 0h0m1 0h0m2 0h0m5 0h0m1 0h0m73 0h0m3 0h0m1 0h0m1 0h0m1 0h0m1 0h0m1 0h0m1 0h0m1 0h0m1 0h0m1 0h0m1 0h0m1 0h0m1 0h0m1 0h0m1 0h0m1 0h0m1 0h0m1 0h0m1 0h0m1 0h0m2 0h0m2 0h0m1 0h0m2 0h0m1 0h0m1 0h0m2 0h0m2 0h0m-142 1h0m2 0h0m2 0h0m2 0h0m3 0h0m1 0h0m1 0h0m1 0h0m2 0h0m1 0h0m1 0h0m1 0h0m1 0h0m2 0h0m2 0h0m4 0h0m1 0h0m1 0h0m4 0h0m69 0h0m8 0h0m1 0h0m1 0h0m2 0h0m1 0h0m1 0h0m1 0h0m1 0h0m1 0h0m1 0h0m1 0h0m1 0h0m1 0h0m1 0h0m1 0h0m1 0h0m1 0h0m1 0h0m1 0h0m1 0h0m1 0h0m1 0h0m1 0h0m1 0h0m2 0h0m1 0h0m1 0h0m1 0h0m1 0h0m2 0h0m1 0h0m2 0h0m-148 1h0m5 0h0m2 0h0m3 0h0m3 0h0m1 0h0m2 0h0m2 0h0m1 0h0m1 0h0m1 0h0m1 0h0m3 0h0m5 0h0m2 0h0m2 0h0m7 0h0m68 0h0m4 0h0m2 0h0m1 0h0m2 0h0m1 0h0m1 0h0m1 0h0m1 0h0m1 0h0m1 0h0m1 0h0m1 0h0m1 0h0m1 0h0m1 0h0m1 0h0m1 0h0m1 0h0m1 0h0m1 0h0m2 0h0m1 0h0m1 0h0m1 0h0m1 0h0m1 0h0m3 0h0m1 0h0m-156 1h0m19 0h0m1 0h0m1 0h0m2 0h0m2 0h0m1 0h0m1 0h0m1 0h0m2 0h0m1 0h0m1 0h0m1 0h0m1 0h0m2 0h0m1 0h0m1 0h0m2 0h0m1 0h0m11 0h0m69 0h0m4 0h0m1 0h0m3 0h0m1 0h0m1 0h0m1 0h0m1 0h0m1 0h0m1 0h0m1 0h0m1 0h0m1 0h0m1 0h0m1 0h0m1 0h0m1 0h0m1 0h0m1 0h0m1 0h0m1 0h0m1 0h0m2 0h0m1 0h0m1 0h0m1 0h0m2 0h0m1 0h0m5 0h0m2 0h0m-148 1h0m2 0h0m3 0h0m2 0h0m3 0h0m1 0h0m1 0h0m2 0h0m1 0h0m2 0h0m1 0h0m1 0h0m1 0h0m3 0h0m1 0h0m13 0h0m67 0h0m8 0h0m1 0h0m2 0h0m1 0h0m1 0h0m1 0h0m1 0h0m1 0h0m1 0h0m1 0h0m1 0h0m1 0h0m1 0h0m1 0h0m1 0h0m1 0h0m1 0h0m1 0h0m1 0h0m1 0h0m3 0h0m1 0h0m1 0h0m1 0h0m1 0h0m2 0h0m-143 1h0m1 0h0m8 0h0m1 0h0m1 0h0m3 0h0m1 0h0m1 0h0m2 0h0m1 0h0m1 0h0m1 0h0m1 0h0m1 0h0m1 0h0m1 0h0m1 0h0m2 0h0m2 0h0m1 0h0m74 0h0m7 0h0m4 0h0m1 0h0m1 0h0m1 0h0m1 0h0m1 0h0m1 0h0m1 0h0m1 0h0m1 0h0m1 0h0m1 0h0m1 0h0m1 0h0m1 0h0m1 0h0m2 0h0m1 0h0m1 0h0m1 0h0m1 0h0m1 0h0m1 0h0m1 0h0m2 0h0m1 0h0m3 0h0m1 0h0m-148 1h0m4 0h0m1 0h0m1 0h0m1 0h0m5 0h0m2 0h0m1 0h0m3 0h0m1 0h0m1 0h0m1 0h0m2 0h0m3 0h0m3 0h0m1 0h0m1 0h0m1 0h0m5 0h0m69 0h0m9 0h0m3 0h0m1 0h0m1 0h0m1 0h0m1 0h0m1 0h0m1 0h0m1 0h0m1 0h0m1 0h0m1 0h0m1 0h0m1 0h0m1 0h0m1 0h0m1 0h0m1 0h0m1 0h0m1 0h0m2 0h0m1 0h0m1 0h0m1 0h0m3 0h0m-137 1h0m2 0h0m2 0h0m2 0h0m2 0h0m2 0h0m1 0h0m1 0h0m4 0h0m1 0h0m11 0h0m72 0h0m5 0h0m1 0h0m3 0h0m1 0h0m2 0h0m1 0h0m1 0h0m1 0h0m1 0h0m1 0h0m1 0h0m2 0h0m1 0h0m1 0h0m1 0h0m1 0h0m1 0h0m1 0h0m1 0h0m1 0h0m1 0h0m1 0h0m1 0h0m4 0h0m2 0h0m2 0h0m-134 1h0m3 0h0m1 0h0m1 0h0m1 0h0m2 0h0m2 0h0m3 0h0m1 0h0m2 0h0m82 0h0m4 0h0m1 0h0m1 0h0m1 0h0m2 0h0m1 0h0m1 0h0m1 0h0m1 0h0m1 0h0m1 0h0m1 0h0m1 0h0m1 0h0m1 0h0m1 0h0m1 0h0m1 0h0m1 0h0m2 0h0m1 0h0m1 0h0m2 0h0m1 0h0m1 0h0m2 0h0m1 0h0m2 0h0m-139 1h0m6 0h0m3 0h0m1 0h0m1 0h0m1 0h0m5 0h0m1 0h0m2 0h0m7 0h0m1 0h0m16 0h0m62 0h0m8 0h0m1 0h0m1 0h0m1 0h0m1 0h0m1 0h0m1 0h0m1 0h0m1 0h0m1 0h0m1 0h0m1 0h0m1 0h0m1 0h0m1 0h0m1 0h0m2 0h0m2 0h0m1 0h0m3 0h0m1 0h0m-138 1h0m6 0h0m1 0h0m9 0h0m4 0h0m6 0h0m78 0h0m2 0h0m1 0h0m3 0h0m1 0h0m2 0h0m2 0h0m2 0h0m1 0h0m1 0h0m1 0h0m1 0h0m2 0h0m1 0h0m1 0h0m1 0h0m1 0h0m2 0h0m2 0h0m2 0h0m1 0h0m3 0h0m-134 1h0m5 0h0m5 0h0m15 0h0m67 0h0m10 0h0m3 0h0m1 0h0m2 0h0m1 0h0m1 0h0m1 0h0m1 0h0m2 0h0m1 0h0m1 0h0m1 0h0m1 0h0m1 0h0m1 0h0m1 0h0m1 0h0m1 0h0m2 0h0m1 0h0m3 0h0m1 0h0m3 0h0m2 0h0m-139 1h0m2 0h0m2 0h0m2 0h0m1 0h0m1 0h0m4 0h0m7 0h0m3 0h0m1 0h0m2 0h0m80 0h0m8 0h0m1 0h0m1 0h0m2 0h0m1 0h0m1 0h0m1 0h0m1 0h0m1 0h0m1 0h0m1 0h0m1 0h0m1 0h0m2 0h0m1 0h0m1 0h0m1 0h0m5 0h0m1 0h0m3 0h0m-134 1h0m7 0h0m1 0h0m2 0h0m13 0h0m77 0h0m4 0h0m1 0h0m1 0h0m1 0h0m1 0h0m1 0h0m1 0h0m1 0h0m2 0h0m1 0h0m1 0h0m1 0h0m2 0h0m2 0h0m1 0h0m6 0h0m2 0h0m-140 1h0m5 0h0m7 0h0m9 0h0m3 0h0m1 0h0m3 0h0m88 0h0m2 0h0m1 0h0m1 0h0m1 0h0m1 0h0m2 0h0m1 0h0m1 0h0m1 0h0m1 0h0m2 0h0m3 0h0m1 0h0m1 0h0m5 0h0m-144 1h0m15 0h0m3 0h0m22 0h0m75 0h0m2 0h0m5 0h0m1 0h0m2 0h0m1 0h0m1 0h0m1 0h0m2 0h0m1 0h0m1 0h0m1 0h0m4 0h0m3 0h0m2 0h0m7 0h0m-140 1h0m3 0h0m4 0h0m8 0h0m93 0h0m6 0h0m1 0h0m2 0h0m4 0h0m2 0h0m1 0h0m2 0h0m1 0h0m10 0h0m-138 1h0m10 0h0m1 0h0m102 0h0m3 0h0m2 0h0m2 0h0m1 0h0m3 0h0m1 0h0m5 0h0m2 0h0m-120 1h0m2 0h0m4 0h0m3 0h0m99 0h0m5 0h0m4 0h0m2 0h0m3 0h0m-108 57h0m108 1h0m1 0h0m3 0h0m4 0h0m-112 2h0m110 0h0m1 0h0m-117 1h0m7 0h0m107 0h0m2 0h0m2 0h0m1 0h0m-120 1h0m9 0h0m105 0h0m1 0h0m1 0h0m2 0h0m-116 1h0m1 0h0m6 0h0m103 0h0m3 0h0m2 0h0m1 0h0m1 0h0m-128 1h0m2 0h0m6 0h0m10 0h0m3 0h0m96 0h0m2 0h0m1 0h0m2 0h0m3 0h0m1 0h0m1 0h0m1 0h0m-123 1h0m4 0h0m1 0h0m1 0h0m4 0h0m2 0h0m2 0h0m1 0h0m1 0h0m3 0h0m94 0h0m1 0h0m2 0h0m5 0h0m1 0h0m1 0h0m1 0h0m-118 1h0m2 0h0m1 0h0m1 0h0m1 0h0m1 0h0m1 0h0m98 0h0m3 0h0m1 0h0m2 0h0m4 0h0m1 0h0m-118 1h0m2 0h0m1 0h0m3 0h0m1 0h0m1 0h0m1 0h0m1 0h0m1 0h0m100 0h0m2 0h0m1 0h0m1 0h0m1 0h0m1 0h0m2 0h0m-121 1h0m3 0h0m1 0h0m2 0h0m3 0h0m4 0h0m93 0h0m5 0h0m2 0h0m2 0h0m2 0h0m1 0h0m1 0h0m1 0h0m1 0h0m1 0h0m3 0h0m-128 1h0m4 0h0m1 0h0m1 0h0m1 0h0m1 0h0m4 0h0m1 0h0m1 0h0m1 0h0m1 0h0m1 0h0m93 0h0m3 0h0m3 0h0m2 0h0m1 0h0m1 0h0m1 0h0m1 0h0m1 0h0m1 0h0m-119 1h0m1 0h0m1 0h0m1 0h0m2 0h0m1 0h0m1 0h0m2 0h0m1 0h0m1 0h0m3 0h0m90 0h0m5 0h0m1 0h0m4 0h0m1 0h0m1 0h0m1 0h0m1 0h0m1 0h0m1 0h0m1 0h0m-122 1h0m1 0h0m3 0h0m3 0h0m1 0h0m1 0h0m1 0h0m1 0h0m94 0h0m5 0h0m2 0h0m2 0h0m1 0h0m2 0h0m1 0h0m1 0h0m1 0h0m-122 1h0m4 0h0m1 0h0m1 0h0m1 0h0m1 0h0m2 0h0m1 0h0m1 0h0m1 0h0m1 0h0m1 0h0m92 0h0m4 0h0m2 0h0m1 0h0m1 0h0m1 0h0m1 0h0m1 0h0m1 0h0m1 0h0m1 0h0m1 0h0m1 0h0m-124 1h0m3 0h0m1 0h0m2 0h0m1 0h0m1 0h0m1 0h0m2 0h0m1 0h0m1 0h0m1 0h0m1 0h0m1 0h0m94 0h0m6 0h0m1 0h0m3 0h0m1 0h0m1 0h0m1 0h0m1 0h0m2 0h0m-122 1h0m1 0h0m1 0h0m1 0h0m3 0h0m1 0h0m1 0h0m1 0h0m1 0h0m1 0h0m1 0h0m94 0h0m1 0h0m3 0h0m1 0h0m2 0h0m1 0h0m1 0h0m1 0h0m1 0h0m1 0h0m1 0h0m1 0h0m-123 1h0m4 0h0m1 0h0m1 0h0m1 0h0m1 0h0m1 0h0m1 0h0m1 0h0m1 0h0m1 0h0m1 0h0m87 0h0m5 0h0m2 0h0m3 0h0m2 0h0m1 0h0m2 0h0m1 0h0m1 0h0m1 0h0m1 0h0m1 0h0m1 0h0m1 0h0m7 0h0m-128 1h0m1 0h0m1 0h0m1 0h0m1 0h0m1 0h0m3 0h0m1 0h0m1 0h0m1 0h0m1 0h0m1 0h0m94 0h0m3 0h0m3 0h0m1 0h0m1 0h0m1 0h0m1 0h0m1 0h0m1 0h0m1 0h0m-121 1h0m2 0h0m2 0h0m1 0h0m1 0h0m1 0h0m1 0h0m1 0h0m1 0h0m1 0h0m1 0h0m1 0h0m1 0h0m89 0h0m8 0h0m1 0h0m1 0h0m1 0h0m1 0h0m1 0h0m1 0h0m1 0h0m1 0h0m1 0h0m1 0h0m1 0h0m-127 1h0m5 0h0m1 0h0m1 0h0m1 0h0m2 0h0m1 0h0m1 0h0m1 0h0m1 0h0m1 0h0m1 0h0m1 0h0m1 0h0m1 0h0m86 0h0m3 0h0m7 0h0m3 0h0m1 0h0m1 0h0m2 0h0m1 0h0m1 0h0m1 0h0m1 0h0m-128 1h0m3 0h0m6 0h0m1 0h0m1 0h0m1 0h0m2 0h0m1 0h0m1 0h0m1 0h0m1 0h0m1 0h0m1 0h0m99 0h0m1 0h0m1 0h0m1 0h0m1 0h0m1 0h0m1 0h0m1 0h0m1 0h0m1 0h0m-127 1h0m5 0h0m3 0h0m1 0h0m2 0h0m1 0h0m2 0h0m1 0h0m1 0h0m1 0h0m1 0h0m1 0h0m1 0h0m97 0h0m1 0h0m1 0h0m1 0h0m2 0h0m1 0h0m1 0h0m1 0h0m1 0h0m2 0h0m1 0h0m-122 1h0m1 0h0m1 0h0m1 0h0m2 0h0m1 0h0m1 0h0m2 0h0m1 0h0m1 0h0m1 0h0m1 0h0m1 0h0m98 0h0m1 0h0m1 0h0m1 0h0m1 0h0m1 0h0m1 0h0m1 0h0m1 0h0m-127 1h0m1 0h0m1 0h0m3 0h0m2 0h0m1 0h0m1 0h0m2 0h0m2 0h0m2 0h0m1 0h0m1 0h0m1 0h0m1 0h0m99 0h0m1 0h0m1 0h0m1 0h0m1 0h0m1 0h0m1 0h0m1 0h0m1 0h0m2 0h0m-124 1h0m4 0h0m1 0h0m1 0h0m1 0h0m1 0h0m1 0h0m2 0h0m1 0h0m1 0h0m1 0h0m1 0h0m4 0h0m95 0h0m1 0h0m1 0h0m1 0h0m1 0h0m2 0h0m1 0h0m1 0h0m1 0h0m-125 1h0m4 0h0m1 0h0m1 0h0m1 0h0m1 0h0m1 0h0m1 0h0m1 0h0m1 0h0m1 0h0m1 0h0m1 0h0m1 0h0m1 0h0m88 0h0m1 0h0m5 0h0m2 0h0m1 0h0m3 0h0m1 0h0m1 0h0m1 0h0m1 0h0m1 0h0m1 0h0m1 0h0m1 0h0m1 0h0m1 0h0m-127 1h0m2 0h0m4 0h0m1 0h0m1 0h0m1 0h0m1 0h0m1 0h0m1 0h0m1 0h0m1 0h0m1 0h0m1 0h0m1 0h0m91 0h0m6 0h0m2 0h0m1 0h0m1 0h0m1 0h0m1 0h0m3 0h0m1 0h0m-126 1h0m5 0h0m3 0h0m2 0h0m1 0h0m1 0h0m4 0h0m1 0h0m1 0h0m1 0h0m1 0h0m91 0h0m6 0h0m1 0h0m5 0h0m1 0h0m1 0h0m1 0h0m1 0h0m-126 1h0m7 0h0m1 0h0m1 0h0m3 0h0m3 0h0m1 0h0m1 0h0m1 0h0" stroke="#161616" stroke-width="1" stroke-linecap="square" fill="none"/></g>
<rect x="329.2" y="391.2" width="79.60000000000002" height="56.30000000000001" fill="none" stroke="#000" stroke-width="1.5"/>
<line x1="329.2" y1="424.4" x2="408.8" y2="424.4" stroke="#000" stroke-width="1.5"/>
<line x1="390.8" y1="391.2" x2="390.8" y2="447.5" stroke="#000" stroke-width="1.5"/>
<text x="330.7" y="400.59999999999997" font-size="10.7" font-weight="bold" text-anchor="start">0.7</text>
<text x="407.3" y="400.59999999999997" font-size="10.7" font-weight="bold" text-anchor="end">0.4</text>
<text x="330.4" y="441.65" font-size="10.7" font-weight="bold" text-anchor="start">4.5</text>
<text x="407.3" y="441.65" font-size="10.7" font-weight="bold" text-anchor="end">94</text>
<rect x="438.4" y="390.7" width="79.80000000000007" height="56.69999999999999" fill="none" stroke="#000" stroke-width="1.5"/>
<line x1="438.4" y1="432.0" x2="518.2" y2="432.0" stroke="#000" stroke-width="1.5"/>
<line x1="499.3" y1="390.7" x2="499.3" y2="447.4" stroke="#000" stroke-width="1.5"/>
<text x="439.9" y="400.09999999999997" font-size="10.7" font-weight="bold" text-anchor="start">1.1</text>
<text x="516.7" y="400.09999999999997" font-size="10.7" font-weight="bold" text-anchor="end">18</text>
<text x="439.59999999999997" y="441.54999999999995" font-size="10.7" font-weight="bold" text-anchor="start">2.9</text>
<text x="516.7" y="441.54999999999995" font-size="10.7" font-weight="bold" text-anchor="end">78</text>
<rect x="329.2" y="473.1" width="79.60000000000002" height="56.89999999999998" fill="none" stroke="#000" stroke-width="1.5"/>
<line x1="329.2" y1="505.8" x2="408.8" y2="505.8" stroke="#000" stroke-width="1.5"/>
<line x1="391.2" y1="473.1" x2="391.2" y2="530.0" stroke="#000" stroke-width="1.5"/>
<text x="330.7" y="483.0" font-size="10.7" font-weight="bold" text-anchor="start">91.3</text>
<text x="407.3" y="483.0" font-size="10.7" font-weight="bold" text-anchor="end">1.7</text>
<text x="330.4" y="522.7" font-size="10.7" font-weight="bold" text-anchor="start">5.6</text>
<text x="407.3" y="522.7" font-size="10.7" font-weight="bold" text-anchor="end">1.3</text>
<rect x="438.4" y="473.1" width="79.60000000000002" height="56.5" fill="none" stroke="#000" stroke-width="1.5"/>
<line x1="438.4" y1="514.2" x2="518.0" y2="514.2" stroke="#000" stroke-width="1.5"/>
<line x1="499.2" y1="473.1" x2="499.2" y2="529.6" stroke="#000" stroke-width="1.5"/>
<text x="439.9" y="483.0" font-size="10.7" font-weight="bold" text-anchor="start">56.8</text>
<text x="516.5" y="483.0" font-size="10.7" font-weight="bold" text-anchor="end">0.9</text>
<text x="439.59999999999997" y="522.3000000000001" font-size="10.7" font-weight="bold" text-anchor="start">40</text>
<text x="516.5" y="522.3000000000001" font-size="10.7" font-weight="bold" text-anchor="end">2.2</text>
<rect x="329.2" y="558.7" width="79.60000000000002" height="55.69999999999993" fill="none" stroke="#000" stroke-width="1.5"/>
<line x1="329.2" y1="590.8" x2="408.8" y2="590.8" stroke="#000" stroke-width="1.5"/>
<line x1="390.8" y1="558.7" x2="390.8" y2="614.4" stroke="#000" stroke-width="1.5"/>
<text x="330.7" y="569.1" font-size="10.7" font-weight="bold" text-anchor="start">55.6</text>
<text x="407.3" y="569.1" font-size="10.7" font-weight="bold" text-anchor="end">2.0</text>
<text x="330.4" y="609.0" font-size="10.7" font-weight="bold" text-anchor="start">37.9</text>
<text x="407.3" y="609.0" font-size="10.7" font-weight="bold" text-anchor="end">4.5</text>
<rect x="438.6" y="557.7" width="79.39999999999998" height="56.09999999999991" fill="none" stroke="#000" stroke-width="1.5"/>
<line x1="438.6" y1="597.7" x2="518.0" y2="597.7" stroke="#000" stroke-width="1.5"/>
<line x1="499.2" y1="557.7" x2="499.2" y2="613.8" stroke="#000" stroke-width="1.5"/>
<text x="440.1" y="568.1" font-size="10.7" font-weight="bold" text-anchor="start">43.6</text>
<text x="516.5" y="568.1" font-size="10.7" font-weight="bold" text-anchor="end">2.7</text>
<text x="439.8" y="608.4" font-size="10.7" font-weight="bold" text-anchor="start">50.1</text>
<text x="516.5" y="608.4" font-size="10.7" font-weight="bold" text-anchor="end">3.5</text>
<rect x="329.4" y="645.1" width="79.20000000000005" height="56.10000000000002" fill="none" stroke="#000" stroke-width="1.5"/>
<line x1="329.4" y1="676.9" x2="408.6" y2="676.9" stroke="#000" stroke-width="1.5"/>
<line x1="390.7" y1="645.1" x2="390.7" y2="701.2" stroke="#000" stroke-width="1.5"/>
<text x="330.9" y="655.7" font-size="10.7" font-weight="bold" text-anchor="start">14.7</text>
<text x="407.1" y="655.7" font-size="10.7" font-weight="bold" text-anchor="end">5.8</text>
<text x="330.59999999999997" y="695.7" font-size="10.7" font-weight="bold" text-anchor="start">40</text>
<text x="407.1" y="695.7" font-size="10.7" font-weight="bold" text-anchor="end">39</text>
<rect x="438.6" y="644.4" width="79.60000000000002" height="55.39999999999998" fill="none" stroke="#000" stroke-width="1.5"/>
<line x1="438.6" y1="684.0" x2="518.2" y2="684.0" stroke="#000" stroke-width="1.5"/>
<line x1="499.9" y1="644.4" x2="499.9" y2="699.8" stroke="#000" stroke-width="1.5"/>
<text x="440.1" y="655.0" font-size="10.7" font-weight="bold" text-anchor="start">17.7</text>
<text x="516.7" y="655.0" font-size="10.7" font-weight="bold" text-anchor="end">15</text>
<text x="439.8" y="694.3" font-size="10.7" font-weight="bold" text-anchor="start">34.7</text>
<text x="516.7" y="694.3" font-size="10.7" font-weight="bold" text-anchor="end">33</text>
</svg></body></html>
